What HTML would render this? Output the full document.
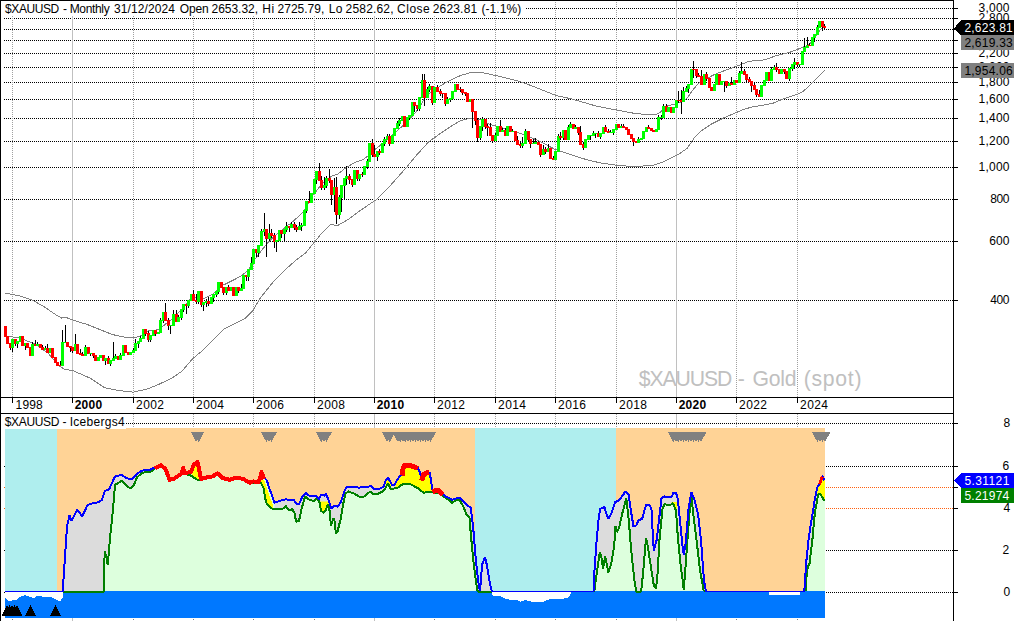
<!DOCTYPE html>
<html><head><meta charset="utf-8"><title>chart</title>
<style>
html,body{margin:0;padding:0;background:#fff;}
body{width:1014px;height:621px;position:relative;overflow:hidden;font-family:"Liberation Sans",sans-serif;}
div{font-family:"Liberation Sans",sans-serif;}
</style></head><body>
<div style="position:absolute;left:15.60px;top:398.84px;font-size:12px;line-height:13.79px;letter-spacing:0.167px;color:#000;white-space:pre;z-index:1">1998</div>
<div style="position:absolute;left:74.70px;top:398.84px;font-size:12px;font-weight:bold;line-height:13.79px;letter-spacing:0.250px;color:#000;white-space:pre;z-index:1">2000</div>
<div style="position:absolute;left:136.10px;top:398.84px;font-size:12px;line-height:13.79px;letter-spacing:0.400px;color:#000;white-space:pre;z-index:1">2002</div>
<div style="position:absolute;left:196.10px;top:398.84px;font-size:12px;line-height:13.79px;letter-spacing:0.400px;color:#000;white-space:pre;z-index:1">2004</div>
<div style="position:absolute;left:256.10px;top:398.84px;font-size:12px;line-height:13.79px;letter-spacing:0.400px;color:#000;white-space:pre;z-index:1">2006</div>
<div style="position:absolute;left:317.10px;top:398.84px;font-size:12px;line-height:13.79px;letter-spacing:0.400px;color:#000;white-space:pre;z-index:1">2008</div>
<div style="position:absolute;left:376.70px;top:398.84px;font-size:12px;font-weight:bold;line-height:13.79px;letter-spacing:0.250px;color:#000;white-space:pre;z-index:1">2010</div>
<div style="position:absolute;left:437.10px;top:398.84px;font-size:12px;line-height:13.79px;letter-spacing:0.400px;color:#000;white-space:pre;z-index:1">2012</div>
<div style="position:absolute;left:498.10px;top:398.84px;font-size:12px;line-height:13.79px;letter-spacing:0.400px;color:#000;white-space:pre;z-index:1">2014</div>
<div style="position:absolute;left:558.10px;top:398.84px;font-size:12px;line-height:13.79px;letter-spacing:0.400px;color:#000;white-space:pre;z-index:1">2016</div>
<div style="position:absolute;left:619.10px;top:398.84px;font-size:12px;line-height:13.79px;letter-spacing:0.400px;color:#000;white-space:pre;z-index:1">2018</div>
<div style="position:absolute;left:678.70px;top:398.84px;font-size:12px;font-weight:bold;line-height:13.79px;letter-spacing:0.250px;color:#000;white-space:pre;z-index:1">2020</div>
<div style="position:absolute;left:739.10px;top:398.84px;font-size:12px;line-height:13.79px;letter-spacing:0.400px;color:#000;white-space:pre;z-index:1">2022</div>
<div style="position:absolute;left:800.10px;top:398.84px;font-size:12px;line-height:13.79px;letter-spacing:0.400px;color:#000;white-space:pre;z-index:1">2024</div>
<div style="position:absolute;left:978.60px;top:1.74px;font-size:12px;line-height:13.79px;letter-spacing:0.200px;color:#000;white-space:pre;z-index:1">3,000</div>
<div style="position:absolute;left:978.60px;top:11.74px;font-size:12px;line-height:13.79px;letter-spacing:0.200px;color:#000;white-space:pre;z-index:1">2,800</div>
<div style="position:absolute;left:978.60px;top:22.74px;font-size:12px;line-height:13.79px;letter-spacing:0.200px;color:#000;white-space:pre;z-index:1">2,600</div>
<div style="position:absolute;left:978.60px;top:33.74px;font-size:12px;line-height:13.79px;letter-spacing:0.200px;color:#000;white-space:pre;z-index:1">2,400</div>
<div style="position:absolute;left:978.60px;top:46.74px;font-size:12px;line-height:13.79px;letter-spacing:0.200px;color:#000;white-space:pre;z-index:1">2,200</div>
<div style="position:absolute;left:978.60px;top:60.74px;font-size:12px;line-height:13.79px;letter-spacing:0.200px;color:#000;white-space:pre;z-index:1">2,000</div>
<div style="position:absolute;left:978.60px;top:75.74px;font-size:12px;line-height:13.79px;letter-spacing:0.200px;color:#000;white-space:pre;z-index:1">1,800</div>
<div style="position:absolute;left:978.60px;top:92.74px;font-size:12px;line-height:13.79px;letter-spacing:0.200px;color:#000;white-space:pre;z-index:1">1,600</div>
<div style="position:absolute;left:978.60px;top:111.74px;font-size:12px;line-height:13.79px;letter-spacing:0.200px;color:#000;white-space:pre;z-index:1">1,400</div>
<div style="position:absolute;left:978.60px;top:134.74px;font-size:12px;line-height:13.79px;letter-spacing:0.200px;color:#000;white-space:pre;z-index:1">1,200</div>
<div style="position:absolute;left:978.60px;top:160.74px;font-size:12px;line-height:13.79px;letter-spacing:0.200px;color:#000;white-space:pre;z-index:1">1,000</div>
<div style="position:absolute;left:990.20px;top:192.74px;font-size:12px;line-height:13.79px;letter-spacing:-0.400px;color:#000;white-space:pre;z-index:1">800</div>
<div style="position:absolute;left:989.20px;top:234.74px;font-size:12px;line-height:13.79px;letter-spacing:0.100px;color:#000;white-space:pre;z-index:1">600</div>
<div style="position:absolute;left:990.20px;top:293.74px;font-size:12px;line-height:13.79px;letter-spacing:-0.400px;color:#000;white-space:pre;z-index:1">400</div>
<div style="position:absolute;left:1003.60px;top:416.74px;font-size:12px;line-height:13.79px;letter-spacing:0.000px;color:#000;white-space:pre;z-index:1">8</div>
<div style="position:absolute;left:1002.60px;top:459.74px;font-size:12px;line-height:13.79px;letter-spacing:0.000px;color:#000;white-space:pre;z-index:1">6</div>
<div style="position:absolute;left:1003.60px;top:501.74px;font-size:12px;line-height:13.79px;letter-spacing:0.000px;color:#000;white-space:pre;z-index:1">4</div>
<div style="position:absolute;left:1002.60px;top:543.74px;font-size:12px;line-height:13.79px;letter-spacing:0.000px;color:#000;white-space:pre;z-index:1">2</div>
<div style="position:absolute;left:1003.60px;top:585.74px;font-size:12px;line-height:13.79px;letter-spacing:0.000px;color:#000;white-space:pre;z-index:1">0</div>
<div style="position:absolute;left:638.70px;top:367.41px;font-size:21.2px;line-height:24.36px;letter-spacing:-1.060px;color:#c0c0c0;white-space:pre;z-index:0">$XAUUSD</div>
<div style="position:absolute;left:737.70px;top:367.41px;font-size:21.2px;line-height:24.36px;letter-spacing:0.000px;color:#c0c0c0;white-space:pre;z-index:0">-</div>
<div style="position:absolute;left:752.50px;top:367.41px;font-size:21.2px;line-height:24.36px;letter-spacing:-0.233px;color:#c0c0c0;white-space:pre;z-index:0">Gold</div>
<div style="position:absolute;left:803.70px;top:367.41px;font-size:21.2px;line-height:24.36px;letter-spacing:0.720px;color:#c0c0c0;white-space:pre;z-index:0">(spot)</div>
<svg width="1014" height="621" viewBox="0 0 1014 621" shape-rendering="crispEdges" style="position:absolute;left:0;top:0;z-index:2">
<defs>
<clipPath id="ct"><rect x="1" y="1" width="952" height="396"/></clipPath>
<clipPath id="cy"><rect x="192" y="429" width="9.2" height="163"/><rect x="319.5" y="501.5" width="10.0" height="90.5"/><rect x="385.6" y="429" width="5.4" height="163"/><rect x="395.5" y="429" width="37.1" height="163"/><rect x="671.5" y="502" width="5.5" height="90"/><rect x="817.3" y="429" width="7.7" height="163"/></clipPath>
<clipPath id="clg"><rect x="260" y="428" width="14.6" height="164"/></clipPath>
</defs>
<line x1="4" x2="953" y1="8.5" y2="8.5" stroke="#000" stroke-width="1" stroke-dasharray="1 1"/>
<rect x="954" y="8" width="4" height="1" fill="#000"/>
<line x1="4" x2="953" y1="18.5" y2="18.5" stroke="#000" stroke-width="1" stroke-dasharray="1 1"/>
<rect x="954" y="18" width="4" height="1" fill="#000"/>
<line x1="4" x2="953" y1="29.5" y2="29.5" stroke="#000" stroke-width="1" stroke-dasharray="1 1"/>
<rect x="954" y="29" width="4" height="1" fill="#000"/>
<line x1="4" x2="953" y1="40.5" y2="40.5" stroke="#000" stroke-width="1" stroke-dasharray="1 1"/>
<rect x="954" y="40" width="4" height="1" fill="#000"/>
<line x1="4" x2="953" y1="53.5" y2="53.5" stroke="#000" stroke-width="1" stroke-dasharray="1 1"/>
<rect x="954" y="53" width="4" height="1" fill="#000"/>
<line x1="4" x2="953" y1="67.5" y2="67.5" stroke="#000" stroke-width="1" stroke-dasharray="1 1"/>
<rect x="954" y="67" width="4" height="1" fill="#000"/>
<line x1="4" x2="953" y1="82.5" y2="82.5" stroke="#000" stroke-width="1" stroke-dasharray="1 1"/>
<rect x="954" y="82" width="4" height="1" fill="#000"/>
<line x1="4" x2="953" y1="99.5" y2="99.5" stroke="#000" stroke-width="1" stroke-dasharray="1 1"/>
<rect x="954" y="99" width="4" height="1" fill="#000"/>
<line x1="4" x2="953" y1="118.5" y2="118.5" stroke="#000" stroke-width="1" stroke-dasharray="1 1"/>
<rect x="954" y="118" width="4" height="1" fill="#000"/>
<line x1="4" x2="953" y1="141.5" y2="141.5" stroke="#000" stroke-width="1" stroke-dasharray="1 1"/>
<rect x="954" y="141" width="4" height="1" fill="#000"/>
<line x1="4" x2="953" y1="167.5" y2="167.5" stroke="#000" stroke-width="1" stroke-dasharray="1 1"/>
<rect x="954" y="167" width="4" height="1" fill="#000"/>
<line x1="4" x2="953" y1="199.5" y2="199.5" stroke="#000" stroke-width="1" stroke-dasharray="1 1"/>
<rect x="954" y="199" width="4" height="1" fill="#000"/>
<line x1="4" x2="953" y1="241.5" y2="241.5" stroke="#000" stroke-width="1" stroke-dasharray="1 1"/>
<rect x="954" y="241" width="4" height="1" fill="#000"/>
<line x1="4" x2="953" y1="300.5" y2="300.5" stroke="#000" stroke-width="1" stroke-dasharray="1 1"/>
<rect x="954" y="300" width="4" height="1" fill="#000"/>
<line x1="12.5" x2="12.5" y1="2" y2="397" stroke="#a0a0a0" stroke-width="1" stroke-dasharray="1 1"/>
<line x1="12.5" x2="12.5" y1="414" y2="428" stroke="#a0a0a0" stroke-width="1" stroke-dasharray="1 1"/>
<rect x="12" y="619" width="1" height="1" fill="#808080"/>
<rect x="72" y="1" width="1" height="396" fill="#c0c0c0"/>
<rect x="72" y="414" width="1" height="14" fill="#c0c0c0"/>
<rect x="72" y="618" width="1" height="3" fill="#c0c0c0"/>
<line x1="133.5" x2="133.5" y1="2" y2="397" stroke="#a0a0a0" stroke-width="1" stroke-dasharray="1 1"/>
<line x1="133.5" x2="133.5" y1="414" y2="428" stroke="#a0a0a0" stroke-width="1" stroke-dasharray="1 1"/>
<rect x="133" y="619" width="1" height="1" fill="#808080"/>
<line x1="193.5" x2="193.5" y1="2" y2="397" stroke="#a0a0a0" stroke-width="1" stroke-dasharray="1 1"/>
<line x1="193.5" x2="193.5" y1="414" y2="428" stroke="#a0a0a0" stroke-width="1" stroke-dasharray="1 1"/>
<rect x="193" y="619" width="1" height="1" fill="#808080"/>
<line x1="253.5" x2="253.5" y1="2" y2="397" stroke="#a0a0a0" stroke-width="1" stroke-dasharray="1 1"/>
<line x1="253.5" x2="253.5" y1="414" y2="428" stroke="#a0a0a0" stroke-width="1" stroke-dasharray="1 1"/>
<rect x="253" y="619" width="1" height="1" fill="#808080"/>
<line x1="314.5" x2="314.5" y1="2" y2="397" stroke="#a0a0a0" stroke-width="1" stroke-dasharray="1 1"/>
<line x1="314.5" x2="314.5" y1="414" y2="428" stroke="#a0a0a0" stroke-width="1" stroke-dasharray="1 1"/>
<rect x="314" y="619" width="1" height="1" fill="#808080"/>
<rect x="374" y="1" width="1" height="396" fill="#c0c0c0"/>
<rect x="374" y="414" width="1" height="14" fill="#c0c0c0"/>
<rect x="374" y="618" width="1" height="3" fill="#c0c0c0"/>
<line x1="434.5" x2="434.5" y1="2" y2="397" stroke="#a0a0a0" stroke-width="1" stroke-dasharray="1 1"/>
<line x1="434.5" x2="434.5" y1="414" y2="428" stroke="#a0a0a0" stroke-width="1" stroke-dasharray="1 1"/>
<rect x="434" y="619" width="1" height="1" fill="#808080"/>
<line x1="495.5" x2="495.5" y1="2" y2="397" stroke="#a0a0a0" stroke-width="1" stroke-dasharray="1 1"/>
<line x1="495.5" x2="495.5" y1="414" y2="428" stroke="#a0a0a0" stroke-width="1" stroke-dasharray="1 1"/>
<rect x="495" y="619" width="1" height="1" fill="#808080"/>
<line x1="555.5" x2="555.5" y1="2" y2="397" stroke="#a0a0a0" stroke-width="1" stroke-dasharray="1 1"/>
<line x1="555.5" x2="555.5" y1="414" y2="428" stroke="#a0a0a0" stroke-width="1" stroke-dasharray="1 1"/>
<rect x="555" y="619" width="1" height="1" fill="#808080"/>
<line x1="616.5" x2="616.5" y1="2" y2="397" stroke="#a0a0a0" stroke-width="1" stroke-dasharray="1 1"/>
<line x1="616.5" x2="616.5" y1="414" y2="428" stroke="#a0a0a0" stroke-width="1" stroke-dasharray="1 1"/>
<rect x="616" y="619" width="1" height="1" fill="#808080"/>
<rect x="676" y="1" width="1" height="396" fill="#c0c0c0"/>
<rect x="676" y="414" width="1" height="14" fill="#c0c0c0"/>
<rect x="676" y="618" width="1" height="3" fill="#c0c0c0"/>
<line x1="736.5" x2="736.5" y1="2" y2="397" stroke="#a0a0a0" stroke-width="1" stroke-dasharray="1 1"/>
<line x1="736.5" x2="736.5" y1="414" y2="428" stroke="#a0a0a0" stroke-width="1" stroke-dasharray="1 1"/>
<rect x="736" y="619" width="1" height="1" fill="#808080"/>
<line x1="797.5" x2="797.5" y1="2" y2="397" stroke="#a0a0a0" stroke-width="1" stroke-dasharray="1 1"/>
<line x1="797.5" x2="797.5" y1="414" y2="428" stroke="#a0a0a0" stroke-width="1" stroke-dasharray="1 1"/>
<rect x="797" y="619" width="1" height="1" fill="#808080"/>
<rect x="1" y="1" width="524" height="15" fill="#fff"/>
<g clip-path="url(#ct)">
<polyline points="5.4,293.1 19.3,295.8 32.8,300.3 44.4,307.0 56.0,314.8 61.8,318.1 65.7,317.3 73.4,320.2 86.9,324.4 100.5,329.8 112.1,334.5 123.6,337.0 135.2,337.6 143.0,335.1 148.8,330.2 154.6,330.6 160.4,328.3 166.2,323.5 171.3,319.9 181.9,309.3 189.0,300.4 194.3,296.9 203.1,299.0 213.8,293.4 220.8,286.3 231.5,281.0 242.1,275.6 249.2,268.6 254.5,259.7 259.8,252.6 266.9,243.8 274.0,236.7 284.6,227.8 291.7,222.5 302.3,213.0 306.4,206.5 312.9,195.3 319.3,187.2 325.8,180.0 332.2,175.9 337.4,174.4 346.4,167.3 355.4,162.2 363.1,159.6 368.3,155.7 376.0,148.7 382.5,143.5 390.0,137.0 397.9,130.0 403.1,125.5 409.5,119.7 416.0,111.9 421.5,103.8 424.1,98.7 430.0,93.0 439.6,86.4 444.7,83.2 452.5,79.3 460.2,75.7 467.9,73.3 473.1,72.2 479.5,72.5 486.0,73.3 493.7,75.2 500.0,76.5 505.8,78.0 518.6,81.2 531.5,85.7 544.4,90.9 555.7,95.4 570.2,98.6 583.1,102.2 595.9,106.0 608.8,108.6 621.7,110.9 634.6,113.4 647.5,114.7 656.6,114.4 660.5,112.2 665.3,106.4 674.0,104.4 677.9,102.5 683.7,101.5 687.5,97.7 691.4,91.9 695.3,87.1 699.1,82.8 706.9,78.4 714.6,74.5 720.9,72.0 730.9,68.3 740.3,64.8 748.3,61.5 756.0,60.4 764.4,59.9 775.7,55.9 788.6,52.7 798.5,49.0 803.1,47.0 809.5,44.6 813.0,40.0 816.5,35.0 820.0,30.0 822.4,27.5 824.5,28.0" fill="none" stroke="#808080" stroke-width="1" stroke-linejoin="bevel"/>
<polyline points="6.8,336.0 19.3,338.0 34.8,343.8 48.3,353.4 58.0,365.0 63.8,368.9 73.4,370.8 90.8,378.5 104.3,387.6 117.9,390.5 133.3,392.1 146.8,389.2 158.4,384.5 171.3,378.4 181.9,371.3 192.5,358.9 203.1,350.0 213.8,339.4 224.4,328.8 235.0,323.5 245.6,318.1 252.7,311.0 259.8,298.7 266.9,289.8 274.0,280.9 284.6,270.3 295.2,260.8 305.9,252.6 314.5,242.0 322.5,232.3 330.6,224.2 337.0,225.9 348.3,219.4 361.2,209.8 375.7,200.1 386.3,190.0 397.9,177.0 407.0,166.7 416.0,155.7 428.9,141.6 441.7,132.5 451.4,126.0 461.0,120.5 470.7,118.0 480.3,119.6 489.7,124.4 499.3,127.0 512.2,130.8 525.1,135.0 536.4,139.8 544.4,143.7 554.1,148.9 563.7,152.1 576.6,156.6 589.5,160.5 602.4,163.3 615.3,165.0 628.1,166.2 641.0,166.2 653.9,165.0 663.6,161.7 669.7,158.5 679.3,153.9 687.4,148.1 693.8,138.5 701.9,130.4 711.5,124.0 724.4,117.6 737.3,112.1 743.5,109.4 753.2,106.7 764.4,105.0 772.5,103.4 783.8,98.6 796.7,94.6 803.1,91.3 808.0,87.0 812.8,82.5 818.0,77.0 824.5,70.5" fill="none" stroke="#808080" stroke-width="1" stroke-linejoin="bevel"/>
<rect x="5" y="326" width="1" height="11" fill="#000"/>
<rect x="4" y="326" width="3" height="11" fill="#ff0000"/>
<rect x="7" y="336" width="1" height="8" fill="#000"/>
<rect x="6" y="336" width="3" height="8" fill="#ff0000"/>
<rect x="10" y="343" width="1" height="7" fill="#000"/>
<rect x="9" y="343" width="3" height="5" fill="#ff0000"/>
<rect x="12" y="339" width="1" height="13" fill="#000"/>
<rect x="11" y="339" width="3" height="9" fill="#00ff00"/>
<rect x="15" y="339" width="1" height="7" fill="#000"/>
<rect x="14" y="339" width="3" height="5" fill="#ff0000"/>
<rect x="17" y="341" width="1" height="7" fill="#000"/>
<rect x="16" y="341" width="3" height="3" fill="#00ff00"/>
<rect x="20" y="336" width="1" height="6" fill="#000"/>
<rect x="19" y="336" width="3" height="6" fill="#00ff00"/>
<rect x="22" y="336" width="1" height="10" fill="#000"/>
<rect x="21" y="336" width="3" height="10" fill="#ff0000"/>
<rect x="25" y="343" width="1" height="7" fill="#000"/>
<rect x="24" y="343" width="3" height="3" fill="#00ff00"/>
<rect x="27" y="343" width="1" height="5" fill="#000"/>
<rect x="26" y="343" width="3" height="5" fill="#ff0000"/>
<rect x="30" y="347" width="1" height="9" fill="#000"/>
<rect x="29" y="347" width="3" height="9" fill="#ff0000"/>
<rect x="32" y="342" width="1" height="14" fill="#000"/>
<rect x="31" y="344" width="3" height="12" fill="#00ff00"/>
<rect x="35" y="340" width="1" height="6" fill="#000"/>
<rect x="34" y="344" width="3" height="2" fill="#ff0000"/>
<rect x="37" y="342" width="1" height="4" fill="#000"/>
<rect x="36" y="344" width="3" height="2" fill="#00ff00"/>
<rect x="40" y="344" width="1" height="4" fill="#000"/>
<rect x="39" y="344" width="3" height="4" fill="#ff0000"/>
<rect x="42" y="345" width="1" height="5" fill="#000"/>
<rect x="41" y="347" width="3" height="3" fill="#ff0000"/>
<rect x="45" y="346" width="1" height="4" fill="#000"/>
<rect x="44" y="348" width="3" height="2" fill="#00ff00"/>
<rect x="47" y="344" width="1" height="9" fill="#000"/>
<rect x="46" y="348" width="3" height="5" fill="#ff0000"/>
<rect x="50" y="348" width="1" height="5" fill="#000"/>
<rect x="49" y="348" width="3" height="5" fill="#00ff00"/>
<rect x="52" y="348" width="1" height="10" fill="#000"/>
<rect x="51" y="348" width="3" height="10" fill="#ff0000"/>
<rect x="55" y="357" width="1" height="6" fill="#000"/>
<rect x="54" y="357" width="3" height="6" fill="#ff0000"/>
<rect x="57" y="362" width="1" height="4" fill="#000"/>
<rect x="56" y="362" width="3" height="4" fill="#ff0000"/>
<rect x="60" y="361" width="1" height="5" fill="#000"/>
<rect x="59" y="365" width="3" height="1" fill="#ff0000"/>
<rect x="62" y="330" width="1" height="36" fill="#000"/>
<rect x="61" y="342" width="3" height="24" fill="#00ff00"/>
<rect x="65" y="325" width="1" height="18" fill="#000"/>
<rect x="64" y="342" width="3" height="1" fill="#00ff00"/>
<rect x="67" y="342" width="1" height="5" fill="#000"/>
<rect x="66" y="342" width="3" height="5" fill="#ff0000"/>
<rect x="70" y="346" width="1" height="6" fill="#000"/>
<rect x="69" y="346" width="3" height="2" fill="#ff0000"/>
<rect x="72" y="347" width="1" height="6" fill="#000"/>
<rect x="71" y="347" width="3" height="4" fill="#ff0000"/>
<rect x="75" y="334" width="1" height="17" fill="#000"/>
<rect x="74" y="344" width="3" height="7" fill="#00ff00"/>
<rect x="77" y="344" width="1" height="10" fill="#000"/>
<rect x="76" y="344" width="3" height="10" fill="#ff0000"/>
<rect x="80" y="349" width="1" height="6" fill="#000"/>
<rect x="79" y="353" width="3" height="2" fill="#ff0000"/>
<rect x="82" y="352" width="1" height="4" fill="#000"/>
<rect x="81" y="354" width="3" height="2" fill="#ff0000"/>
<rect x="85" y="345" width="1" height="11" fill="#000"/>
<rect x="84" y="347" width="3" height="9" fill="#00ff00"/>
<rect x="88" y="347" width="1" height="7" fill="#000"/>
<rect x="87" y="347" width="3" height="7" fill="#ff0000"/>
<rect x="90" y="353" width="1" height="3" fill="#000"/>
<rect x="89" y="353" width="3" height="1" fill="#00ff00"/>
<rect x="93" y="353" width="1" height="5" fill="#000"/>
<rect x="92" y="353" width="3" height="3" fill="#ff0000"/>
<rect x="95" y="355" width="1" height="6" fill="#000"/>
<rect x="94" y="355" width="3" height="6" fill="#ff0000"/>
<rect x="98" y="357" width="1" height="4" fill="#000"/>
<rect x="97" y="357" width="3" height="4" fill="#00ff00"/>
<rect x="100" y="355" width="1" height="3" fill="#000"/>
<rect x="99" y="355" width="3" height="3" fill="#00ff00"/>
<rect x="103" y="355" width="1" height="6" fill="#000"/>
<rect x="102" y="355" width="3" height="6" fill="#ff0000"/>
<rect x="105" y="358" width="1" height="7" fill="#000"/>
<rect x="104" y="358" width="3" height="3" fill="#00ff00"/>
<rect x="108" y="356" width="1" height="8" fill="#000"/>
<rect x="107" y="358" width="3" height="6" fill="#ff0000"/>
<rect x="110" y="360" width="1" height="6" fill="#000"/>
<rect x="109" y="360" width="3" height="4" fill="#00ff00"/>
<rect x="113" y="342" width="1" height="19" fill="#000"/>
<rect x="112" y="358" width="3" height="3" fill="#00ff00"/>
<rect x="115" y="354" width="1" height="5" fill="#000"/>
<rect x="114" y="356" width="3" height="3" fill="#00ff00"/>
<rect x="118" y="356" width="1" height="4" fill="#000"/>
<rect x="117" y="356" width="3" height="4" fill="#ff0000"/>
<rect x="120" y="353" width="1" height="7" fill="#000"/>
<rect x="119" y="355" width="3" height="5" fill="#00ff00"/>
<rect x="123" y="345" width="1" height="11" fill="#000"/>
<rect x="122" y="345" width="3" height="11" fill="#00ff00"/>
<rect x="125" y="345" width="1" height="8" fill="#000"/>
<rect x="124" y="345" width="3" height="8" fill="#ff0000"/>
<rect x="128" y="352" width="1" height="3" fill="#000"/>
<rect x="127" y="352" width="3" height="3" fill="#ff0000"/>
<rect x="130" y="352" width="1" height="3" fill="#000"/>
<rect x="129" y="352" width="3" height="3" fill="#00ff00"/>
<rect x="133" y="348" width="1" height="5" fill="#000"/>
<rect x="132" y="350" width="3" height="3" fill="#00ff00"/>
<rect x="135" y="339" width="1" height="12" fill="#000"/>
<rect x="134" y="343" width="3" height="8" fill="#00ff00"/>
<rect x="138" y="341" width="1" height="7" fill="#000"/>
<rect x="137" y="341" width="3" height="3" fill="#00ff00"/>
<rect x="140" y="336" width="1" height="6" fill="#000"/>
<rect x="139" y="338" width="3" height="4" fill="#00ff00"/>
<rect x="143" y="329" width="1" height="10" fill="#000"/>
<rect x="142" y="329" width="3" height="10" fill="#00ff00"/>
<rect x="145" y="329" width="1" height="7" fill="#000"/>
<rect x="144" y="329" width="3" height="5" fill="#ff0000"/>
<rect x="148" y="331" width="1" height="11" fill="#000"/>
<rect x="147" y="333" width="3" height="7" fill="#ff0000"/>
<rect x="150" y="335" width="1" height="7" fill="#000"/>
<rect x="149" y="335" width="3" height="5" fill="#00ff00"/>
<rect x="153" y="330" width="1" height="6" fill="#000"/>
<rect x="152" y="330" width="3" height="6" fill="#00ff00"/>
<rect x="155" y="330" width="1" height="6" fill="#000"/>
<rect x="154" y="330" width="3" height="4" fill="#ff0000"/>
<rect x="158" y="332" width="1" height="2" fill="#000"/>
<rect x="157" y="332" width="3" height="2" fill="#00ff00"/>
<rect x="160" y="318" width="1" height="15" fill="#000"/>
<rect x="159" y="320" width="3" height="13" fill="#00ff00"/>
<rect x="163" y="312" width="1" height="11" fill="#000"/>
<rect x="162" y="312" width="3" height="9" fill="#00ff00"/>
<rect x="165" y="303" width="1" height="18" fill="#000"/>
<rect x="164" y="312" width="3" height="9" fill="#ff0000"/>
<rect x="168" y="318" width="1" height="12" fill="#000"/>
<rect x="167" y="320" width="3" height="6" fill="#ff0000"/>
<rect x="170" y="325" width="1" height="9" fill="#000"/>
<rect x="169" y="325" width="3" height="1" fill="#00ff00"/>
<rect x="173" y="310" width="1" height="16" fill="#000"/>
<rect x="172" y="314" width="3" height="12" fill="#00ff00"/>
<rect x="176" y="310" width="1" height="12" fill="#000"/>
<rect x="175" y="314" width="3" height="8" fill="#ff0000"/>
<rect x="178" y="315" width="1" height="7" fill="#000"/>
<rect x="177" y="317" width="3" height="5" fill="#00ff00"/>
<rect x="181" y="309" width="1" height="11" fill="#000"/>
<rect x="180" y="309" width="3" height="9" fill="#00ff00"/>
<rect x="183" y="304" width="1" height="8" fill="#000"/>
<rect x="182" y="304" width="3" height="6" fill="#00ff00"/>
<rect x="186" y="304" width="1" height="10" fill="#000"/>
<rect x="185" y="304" width="3" height="2" fill="#ff0000"/>
<rect x="188" y="300" width="1" height="8" fill="#000"/>
<rect x="187" y="300" width="3" height="6" fill="#00ff00"/>
<rect x="191" y="294" width="1" height="7" fill="#000"/>
<rect x="190" y="294" width="3" height="7" fill="#00ff00"/>
<rect x="193" y="290" width="1" height="11" fill="#000"/>
<rect x="192" y="294" width="3" height="7" fill="#ff0000"/>
<rect x="196" y="294" width="1" height="10" fill="#000"/>
<rect x="195" y="300" width="3" height="2" fill="#ff0000"/>
<rect x="198" y="291" width="1" height="13" fill="#000"/>
<rect x="197" y="291" width="3" height="11" fill="#00ff00"/>
<rect x="201" y="291" width="1" height="16" fill="#000"/>
<rect x="200" y="291" width="3" height="14" fill="#ff0000"/>
<rect x="203" y="302" width="1" height="9" fill="#000"/>
<rect x="202" y="302" width="3" height="3" fill="#00ff00"/>
<rect x="206" y="299" width="1" height="8" fill="#000"/>
<rect x="205" y="301" width="3" height="2" fill="#00ff00"/>
<rect x="208" y="297" width="1" height="9" fill="#000"/>
<rect x="207" y="301" width="3" height="3" fill="#ff0000"/>
<rect x="211" y="297" width="1" height="7" fill="#000"/>
<rect x="210" y="297" width="3" height="7" fill="#00ff00"/>
<rect x="213" y="294" width="1" height="8" fill="#000"/>
<rect x="212" y="294" width="3" height="4" fill="#00ff00"/>
<rect x="216" y="291" width="1" height="6" fill="#000"/>
<rect x="215" y="291" width="3" height="4" fill="#00ff00"/>
<rect x="218" y="282" width="1" height="12" fill="#000"/>
<rect x="217" y="282" width="3" height="10" fill="#00ff00"/>
<rect x="221" y="282" width="1" height="6" fill="#000"/>
<rect x="220" y="282" width="3" height="6" fill="#ff0000"/>
<rect x="223" y="287" width="1" height="8" fill="#000"/>
<rect x="222" y="287" width="3" height="6" fill="#ff0000"/>
<rect x="226" y="287" width="1" height="8" fill="#000"/>
<rect x="225" y="287" width="3" height="6" fill="#00ff00"/>
<rect x="228" y="285" width="1" height="6" fill="#000"/>
<rect x="227" y="287" width="3" height="4" fill="#ff0000"/>
<rect x="231" y="287" width="1" height="4" fill="#000"/>
<rect x="230" y="287" width="3" height="4" fill="#00ff00"/>
<rect x="233" y="287" width="1" height="9" fill="#000"/>
<rect x="232" y="287" width="3" height="9" fill="#ff0000"/>
<rect x="236" y="287" width="1" height="9" fill="#000"/>
<rect x="235" y="287" width="3" height="9" fill="#00ff00"/>
<rect x="238" y="287" width="1" height="6" fill="#000"/>
<rect x="237" y="287" width="3" height="4" fill="#ff0000"/>
<rect x="241" y="284" width="1" height="7" fill="#000"/>
<rect x="240" y="288" width="3" height="3" fill="#00ff00"/>
<rect x="243" y="275" width="1" height="14" fill="#000"/>
<rect x="242" y="275" width="3" height="14" fill="#00ff00"/>
<rect x="246" y="275" width="1" height="6" fill="#000"/>
<rect x="245" y="275" width="3" height="2" fill="#ff0000"/>
<rect x="248" y="269" width="1" height="12" fill="#000"/>
<rect x="247" y="269" width="3" height="8" fill="#00ff00"/>
<rect x="251" y="257" width="1" height="13" fill="#000"/>
<rect x="250" y="263" width="3" height="7" fill="#00ff00"/>
<rect x="253" y="249" width="1" height="15" fill="#000"/>
<rect x="252" y="249" width="3" height="15" fill="#00ff00"/>
<rect x="256" y="249" width="1" height="8" fill="#000"/>
<rect x="255" y="249" width="3" height="4" fill="#ff0000"/>
<rect x="258" y="245" width="1" height="12" fill="#000"/>
<rect x="257" y="245" width="3" height="8" fill="#00ff00"/>
<rect x="261" y="229" width="1" height="17" fill="#000"/>
<rect x="260" y="231" width="3" height="15" fill="#00ff00"/>
<rect x="264" y="213" width="1" height="23" fill="#000"/>
<rect x="263" y="229" width="3" height="3" fill="#00ff00"/>
<rect x="266" y="229" width="1" height="28" fill="#000"/>
<rect x="265" y="229" width="3" height="10" fill="#ff0000"/>
<rect x="269" y="224" width="1" height="17" fill="#000"/>
<rect x="268" y="233" width="3" height="6" fill="#00ff00"/>
<rect x="271" y="229" width="1" height="9" fill="#000"/>
<rect x="270" y="233" width="3" height="3" fill="#ff0000"/>
<rect x="274" y="233" width="1" height="15" fill="#000"/>
<rect x="273" y="235" width="3" height="7" fill="#ff0000"/>
<rect x="276" y="240" width="1" height="12" fill="#000"/>
<rect x="275" y="240" width="3" height="2" fill="#00ff00"/>
<rect x="279" y="230" width="1" height="11" fill="#000"/>
<rect x="278" y="230" width="3" height="11" fill="#00ff00"/>
<rect x="281" y="230" width="1" height="8" fill="#000"/>
<rect x="280" y="230" width="3" height="4" fill="#ff0000"/>
<rect x="284" y="229" width="1" height="13" fill="#000"/>
<rect x="283" y="229" width="3" height="5" fill="#00ff00"/>
<rect x="286" y="222" width="1" height="10" fill="#000"/>
<rect x="285" y="226" width="3" height="4" fill="#00ff00"/>
<rect x="289" y="226" width="1" height="6" fill="#000"/>
<rect x="288" y="226" width="3" height="2" fill="#ff0000"/>
<rect x="291" y="222" width="1" height="6" fill="#000"/>
<rect x="290" y="224" width="3" height="4" fill="#00ff00"/>
<rect x="294" y="222" width="1" height="8" fill="#000"/>
<rect x="293" y="224" width="3" height="4" fill="#ff0000"/>
<rect x="296" y="225" width="1" height="7" fill="#000"/>
<rect x="295" y="227" width="3" height="3" fill="#ff0000"/>
<rect x="299" y="222" width="1" height="8" fill="#000"/>
<rect x="298" y="226" width="3" height="4" fill="#00ff00"/>
<rect x="301" y="223" width="1" height="8" fill="#000"/>
<rect x="300" y="225" width="3" height="2" fill="#00ff00"/>
<rect x="304" y="210" width="1" height="16" fill="#000"/>
<rect x="303" y="210" width="3" height="16" fill="#00ff00"/>
<rect x="306" y="201" width="1" height="12" fill="#000"/>
<rect x="305" y="201" width="3" height="10" fill="#00ff00"/>
<rect x="309" y="191" width="1" height="12" fill="#000"/>
<rect x="308" y="201" width="3" height="2" fill="#ff0000"/>
<rect x="311" y="193" width="1" height="10" fill="#000"/>
<rect x="310" y="193" width="3" height="10" fill="#00ff00"/>
<rect x="314" y="179" width="1" height="15" fill="#000"/>
<rect x="313" y="179" width="3" height="15" fill="#00ff00"/>
<rect x="316" y="171" width="1" height="13" fill="#000"/>
<rect x="315" y="171" width="3" height="9" fill="#00ff00"/>
<rect x="319" y="163" width="1" height="18" fill="#000"/>
<rect x="318" y="171" width="3" height="10" fill="#ff0000"/>
<rect x="321" y="176" width="1" height="14" fill="#000"/>
<rect x="320" y="180" width="3" height="8" fill="#ff0000"/>
<rect x="324" y="177" width="1" height="13" fill="#000"/>
<rect x="323" y="185" width="3" height="3" fill="#00ff00"/>
<rect x="326" y="176" width="1" height="12" fill="#000"/>
<rect x="325" y="178" width="3" height="8" fill="#00ff00"/>
<rect x="329" y="169" width="1" height="14" fill="#000"/>
<rect x="328" y="178" width="3" height="3" fill="#ff0000"/>
<rect x="331" y="180" width="1" height="25" fill="#000"/>
<rect x="330" y="180" width="3" height="15" fill="#ff0000"/>
<rect x="334" y="178" width="1" height="34" fill="#000"/>
<rect x="333" y="187" width="3" height="8" fill="#00ff00"/>
<rect x="336" y="177" width="1" height="47" fill="#000"/>
<rect x="335" y="187" width="3" height="28" fill="#ff0000"/>
<rect x="339" y="195" width="1" height="24" fill="#000"/>
<rect x="338" y="197" width="3" height="18" fill="#00ff00"/>
<rect x="341" y="185" width="1" height="27" fill="#000"/>
<rect x="340" y="185" width="3" height="13" fill="#00ff00"/>
<rect x="344" y="178" width="1" height="22" fill="#000"/>
<rect x="343" y="178" width="3" height="8" fill="#00ff00"/>
<rect x="346" y="166" width="1" height="19" fill="#000"/>
<rect x="345" y="176" width="3" height="3" fill="#00ff00"/>
<rect x="349" y="174" width="1" height="10" fill="#000"/>
<rect x="348" y="176" width="3" height="4" fill="#ff0000"/>
<rect x="352" y="179" width="1" height="8" fill="#000"/>
<rect x="351" y="179" width="3" height="6" fill="#ff0000"/>
<rect x="354" y="170" width="1" height="15" fill="#000"/>
<rect x="353" y="170" width="3" height="15" fill="#00ff00"/>
<rect x="357" y="170" width="1" height="11" fill="#000"/>
<rect x="356" y="170" width="3" height="9" fill="#ff0000"/>
<rect x="359" y="174" width="1" height="7" fill="#000"/>
<rect x="358" y="174" width="3" height="5" fill="#00ff00"/>
<rect x="362" y="172" width="1" height="5" fill="#000"/>
<rect x="361" y="174" width="3" height="1" fill="#ff0000"/>
<rect x="364" y="166" width="1" height="9" fill="#000"/>
<rect x="363" y="166" width="3" height="9" fill="#00ff00"/>
<rect x="367" y="159" width="1" height="10" fill="#000"/>
<rect x="366" y="161" width="3" height="6" fill="#00ff00"/>
<rect x="369" y="143" width="1" height="19" fill="#000"/>
<rect x="368" y="143" width="3" height="19" fill="#00ff00"/>
<rect x="372" y="139" width="1" height="18" fill="#000"/>
<rect x="371" y="143" width="3" height="12" fill="#ff0000"/>
<rect x="374" y="145" width="1" height="12" fill="#000"/>
<rect x="373" y="154" width="3" height="3" fill="#ff0000"/>
<rect x="377" y="151" width="1" height="10" fill="#000"/>
<rect x="376" y="151" width="3" height="6" fill="#00ff00"/>
<rect x="379" y="149" width="1" height="6" fill="#000"/>
<rect x="378" y="151" width="3" height="2" fill="#ff0000"/>
<rect x="382" y="143" width="1" height="10" fill="#000"/>
<rect x="381" y="143" width="3" height="10" fill="#00ff00"/>
<rect x="384" y="137" width="1" height="9" fill="#000"/>
<rect x="383" y="139" width="3" height="5" fill="#00ff00"/>
<rect x="387" y="134" width="1" height="6" fill="#000"/>
<rect x="386" y="136" width="3" height="4" fill="#00ff00"/>
<rect x="389" y="134" width="1" height="12" fill="#000"/>
<rect x="388" y="136" width="3" height="8" fill="#ff0000"/>
<rect x="392" y="135" width="1" height="9" fill="#000"/>
<rect x="391" y="135" width="3" height="9" fill="#00ff00"/>
<rect x="394" y="128" width="1" height="8" fill="#000"/>
<rect x="393" y="128" width="3" height="8" fill="#00ff00"/>
<rect x="397" y="121" width="1" height="8" fill="#000"/>
<rect x="396" y="123" width="3" height="6" fill="#00ff00"/>
<rect x="399" y="118" width="1" height="8" fill="#000"/>
<rect x="398" y="120" width="3" height="4" fill="#00ff00"/>
<rect x="402" y="116" width="1" height="5" fill="#000"/>
<rect x="401" y="116" width="3" height="5" fill="#00ff00"/>
<rect x="404" y="116" width="1" height="11" fill="#000"/>
<rect x="403" y="116" width="3" height="11" fill="#ff0000"/>
<rect x="407" y="117" width="1" height="10" fill="#000"/>
<rect x="406" y="117" width="3" height="10" fill="#00ff00"/>
<rect x="409" y="115" width="1" height="5" fill="#000"/>
<rect x="408" y="115" width="3" height="3" fill="#00ff00"/>
<rect x="412" y="102" width="1" height="14" fill="#000"/>
<rect x="411" y="102" width="3" height="14" fill="#00ff00"/>
<rect x="414" y="102" width="1" height="10" fill="#000"/>
<rect x="413" y="102" width="3" height="4" fill="#ff0000"/>
<rect x="417" y="105" width="1" height="6" fill="#000"/>
<rect x="416" y="105" width="3" height="4" fill="#ff0000"/>
<rect x="419" y="97" width="1" height="14" fill="#000"/>
<rect x="418" y="97" width="3" height="12" fill="#00ff00"/>
<rect x="422" y="74" width="1" height="24" fill="#000"/>
<rect x="421" y="80" width="3" height="18" fill="#00ff00"/>
<rect x="424" y="74" width="1" height="32" fill="#000"/>
<rect x="423" y="80" width="3" height="18" fill="#ff0000"/>
<rect x="427" y="87" width="1" height="11" fill="#000"/>
<rect x="426" y="89" width="3" height="9" fill="#00ff00"/>
<rect x="429" y="84" width="1" height="8" fill="#000"/>
<rect x="428" y="86" width="3" height="4" fill="#00ff00"/>
<rect x="432" y="86" width="1" height="19" fill="#000"/>
<rect x="431" y="86" width="3" height="17" fill="#ff0000"/>
<rect x="434" y="87" width="1" height="16" fill="#000"/>
<rect x="433" y="87" width="3" height="16" fill="#00ff00"/>
<rect x="437" y="85" width="1" height="7" fill="#000"/>
<rect x="436" y="87" width="3" height="5" fill="#ff0000"/>
<rect x="440" y="89" width="1" height="7" fill="#000"/>
<rect x="439" y="91" width="3" height="3" fill="#ff0000"/>
<rect x="442" y="93" width="1" height="5" fill="#000"/>
<rect x="441" y="93" width="3" height="1" fill="#ff0000"/>
<rect x="445" y="93" width="1" height="13" fill="#000"/>
<rect x="444" y="93" width="3" height="11" fill="#ff0000"/>
<rect x="447" y="97" width="1" height="7" fill="#000"/>
<rect x="446" y="99" width="3" height="5" fill="#00ff00"/>
<rect x="450" y="98" width="1" height="4" fill="#000"/>
<rect x="449" y="98" width="3" height="2" fill="#00ff00"/>
<rect x="452" y="91" width="1" height="8" fill="#000"/>
<rect x="451" y="91" width="3" height="8" fill="#00ff00"/>
<rect x="455" y="84" width="1" height="8" fill="#000"/>
<rect x="454" y="84" width="3" height="8" fill="#00ff00"/>
<rect x="457" y="84" width="1" height="6" fill="#000"/>
<rect x="456" y="84" width="3" height="6" fill="#ff0000"/>
<rect x="460" y="87" width="1" height="5" fill="#000"/>
<rect x="459" y="89" width="3" height="1" fill="#ff0000"/>
<rect x="462" y="89" width="1" height="6" fill="#000"/>
<rect x="461" y="89" width="3" height="4" fill="#ff0000"/>
<rect x="465" y="92" width="1" height="4" fill="#000"/>
<rect x="464" y="92" width="3" height="2" fill="#ff0000"/>
<rect x="467" y="93" width="1" height="9" fill="#000"/>
<rect x="466" y="93" width="3" height="9" fill="#ff0000"/>
<rect x="470" y="99" width="1" height="3" fill="#000"/>
<rect x="469" y="99" width="3" height="3" fill="#00ff00"/>
<rect x="472" y="99" width="1" height="29" fill="#000"/>
<rect x="471" y="99" width="3" height="13" fill="#ff0000"/>
<rect x="475" y="111" width="1" height="14" fill="#000"/>
<rect x="474" y="111" width="3" height="10" fill="#ff0000"/>
<rect x="477" y="118" width="1" height="24" fill="#000"/>
<rect x="476" y="120" width="3" height="18" fill="#ff0000"/>
<rect x="480" y="126" width="1" height="14" fill="#000"/>
<rect x="479" y="126" width="3" height="12" fill="#00ff00"/>
<rect x="482" y="117" width="1" height="14" fill="#000"/>
<rect x="481" y="119" width="3" height="8" fill="#00ff00"/>
<rect x="485" y="119" width="1" height="10" fill="#000"/>
<rect x="484" y="119" width="3" height="8" fill="#ff0000"/>
<rect x="487" y="124" width="1" height="12" fill="#000"/>
<rect x="486" y="126" width="3" height="2" fill="#ff0000"/>
<rect x="490" y="123" width="1" height="13" fill="#000"/>
<rect x="489" y="127" width="3" height="9" fill="#ff0000"/>
<rect x="492" y="135" width="1" height="8" fill="#000"/>
<rect x="491" y="135" width="3" height="6" fill="#ff0000"/>
<rect x="495" y="133" width="1" height="8" fill="#000"/>
<rect x="494" y="135" width="3" height="6" fill="#00ff00"/>
<rect x="497" y="126" width="1" height="10" fill="#000"/>
<rect x="496" y="126" width="3" height="10" fill="#00ff00"/>
<rect x="500" y="120" width="1" height="12" fill="#000"/>
<rect x="499" y="126" width="3" height="6" fill="#ff0000"/>
<rect x="502" y="128" width="1" height="4" fill="#000"/>
<rect x="501" y="130" width="3" height="2" fill="#00ff00"/>
<rect x="505" y="128" width="1" height="8" fill="#000"/>
<rect x="504" y="130" width="3" height="6" fill="#ff0000"/>
<rect x="507" y="126" width="1" height="10" fill="#000"/>
<rect x="506" y="126" width="3" height="10" fill="#00ff00"/>
<rect x="510" y="126" width="1" height="6" fill="#000"/>
<rect x="509" y="126" width="3" height="6" fill="#ff0000"/>
<rect x="512" y="129" width="1" height="3" fill="#000"/>
<rect x="511" y="131" width="3" height="1" fill="#00ff00"/>
<rect x="515" y="131" width="1" height="10" fill="#000"/>
<rect x="514" y="131" width="3" height="10" fill="#ff0000"/>
<rect x="517" y="136" width="1" height="9" fill="#000"/>
<rect x="516" y="140" width="3" height="5" fill="#ff0000"/>
<rect x="520" y="142" width="1" height="6" fill="#000"/>
<rect x="519" y="144" width="3" height="2" fill="#ff0000"/>
<rect x="522" y="137" width="1" height="11" fill="#000"/>
<rect x="521" y="143" width="3" height="3" fill="#00ff00"/>
<rect x="525" y="129" width="1" height="15" fill="#000"/>
<rect x="524" y="131" width="3" height="13" fill="#00ff00"/>
<rect x="528" y="131" width="1" height="11" fill="#000"/>
<rect x="527" y="131" width="3" height="9" fill="#ff0000"/>
<rect x="530" y="139" width="1" height="9" fill="#000"/>
<rect x="529" y="139" width="3" height="5" fill="#ff0000"/>
<rect x="533" y="139" width="1" height="5" fill="#000"/>
<rect x="532" y="143" width="3" height="1" fill="#00ff00"/>
<rect x="535" y="138" width="1" height="6" fill="#000"/>
<rect x="534" y="142" width="3" height="2" fill="#00ff00"/>
<rect x="538" y="142" width="1" height="3" fill="#000"/>
<rect x="537" y="142" width="3" height="3" fill="#ff0000"/>
<rect x="540" y="144" width="1" height="13" fill="#000"/>
<rect x="539" y="144" width="3" height="11" fill="#ff0000"/>
<rect x="543" y="145" width="1" height="10" fill="#000"/>
<rect x="542" y="149" width="3" height="6" fill="#00ff00"/>
<rect x="545" y="147" width="1" height="7" fill="#000"/>
<rect x="544" y="149" width="3" height="3" fill="#ff0000"/>
<rect x="548" y="144" width="1" height="8" fill="#000"/>
<rect x="547" y="148" width="3" height="4" fill="#00ff00"/>
<rect x="550" y="148" width="1" height="11" fill="#000"/>
<rect x="549" y="148" width="3" height="11" fill="#ff0000"/>
<rect x="553" y="156" width="1" height="4" fill="#000"/>
<rect x="552" y="158" width="3" height="2" fill="#ff0000"/>
<rect x="555" y="151" width="1" height="9" fill="#000"/>
<rect x="554" y="151" width="3" height="9" fill="#00ff00"/>
<rect x="558" y="134" width="1" height="18" fill="#000"/>
<rect x="557" y="136" width="3" height="16" fill="#00ff00"/>
<rect x="560" y="132" width="1" height="8" fill="#000"/>
<rect x="559" y="136" width="3" height="2" fill="#ff0000"/>
<rect x="563" y="130" width="1" height="10" fill="#000"/>
<rect x="562" y="130" width="3" height="8" fill="#00ff00"/>
<rect x="565" y="130" width="1" height="10" fill="#000"/>
<rect x="564" y="130" width="3" height="10" fill="#ff0000"/>
<rect x="568" y="125" width="1" height="15" fill="#000"/>
<rect x="567" y="127" width="3" height="13" fill="#00ff00"/>
<rect x="570" y="122" width="1" height="6" fill="#000"/>
<rect x="569" y="124" width="3" height="4" fill="#00ff00"/>
<rect x="573" y="124" width="1" height="5" fill="#000"/>
<rect x="572" y="124" width="3" height="5" fill="#ff0000"/>
<rect x="575" y="125" width="1" height="4" fill="#000"/>
<rect x="574" y="127" width="3" height="2" fill="#00ff00"/>
<rect x="578" y="127" width="1" height="8" fill="#000"/>
<rect x="577" y="127" width="3" height="6" fill="#ff0000"/>
<rect x="580" y="126" width="1" height="19" fill="#000"/>
<rect x="579" y="132" width="3" height="13" fill="#ff0000"/>
<rect x="583" y="142" width="1" height="8" fill="#000"/>
<rect x="582" y="144" width="3" height="4" fill="#ff0000"/>
<rect x="585" y="139" width="1" height="9" fill="#000"/>
<rect x="584" y="139" width="3" height="9" fill="#00ff00"/>
<rect x="588" y="135" width="1" height="5" fill="#000"/>
<rect x="587" y="135" width="3" height="5" fill="#00ff00"/>
<rect x="590" y="135" width="1" height="5" fill="#000"/>
<rect x="589" y="135" width="3" height="1" fill="#00ff00"/>
<rect x="593" y="131" width="1" height="5" fill="#000"/>
<rect x="592" y="133" width="3" height="3" fill="#00ff00"/>
<rect x="595" y="133" width="1" height="5" fill="#000"/>
<rect x="594" y="133" width="3" height="1" fill="#00ff00"/>
<rect x="598" y="131" width="1" height="6" fill="#000"/>
<rect x="597" y="133" width="3" height="4" fill="#ff0000"/>
<rect x="600" y="133" width="1" height="6" fill="#000"/>
<rect x="599" y="133" width="3" height="4" fill="#00ff00"/>
<rect x="603" y="127" width="1" height="7" fill="#000"/>
<rect x="602" y="127" width="3" height="7" fill="#00ff00"/>
<rect x="605" y="125" width="1" height="7" fill="#000"/>
<rect x="604" y="127" width="3" height="5" fill="#ff0000"/>
<rect x="608" y="129" width="1" height="4" fill="#000"/>
<rect x="607" y="131" width="3" height="2" fill="#ff0000"/>
<rect x="610" y="130" width="1" height="3" fill="#000"/>
<rect x="609" y="132" width="3" height="1" fill="#00ff00"/>
<rect x="613" y="129" width="1" height="6" fill="#000"/>
<rect x="612" y="129" width="3" height="4" fill="#00ff00"/>
<rect x="616" y="124" width="1" height="6" fill="#000"/>
<rect x="615" y="124" width="3" height="6" fill="#00ff00"/>
<rect x="618" y="124" width="1" height="4" fill="#000"/>
<rect x="617" y="124" width="3" height="4" fill="#ff0000"/>
<rect x="621" y="124" width="1" height="4" fill="#000"/>
<rect x="620" y="126" width="3" height="2" fill="#00ff00"/>
<rect x="623" y="124" width="1" height="4" fill="#000"/>
<rect x="622" y="126" width="3" height="2" fill="#ff0000"/>
<rect x="626" y="127" width="1" height="3" fill="#000"/>
<rect x="625" y="127" width="3" height="3" fill="#ff0000"/>
<rect x="628" y="129" width="1" height="6" fill="#000"/>
<rect x="627" y="129" width="3" height="6" fill="#ff0000"/>
<rect x="631" y="134" width="1" height="5" fill="#000"/>
<rect x="630" y="134" width="3" height="5" fill="#ff0000"/>
<rect x="633" y="138" width="1" height="8" fill="#000"/>
<rect x="632" y="138" width="3" height="4" fill="#ff0000"/>
<rect x="636" y="141" width="1" height="2" fill="#000"/>
<rect x="635" y="141" width="3" height="2" fill="#ff0000"/>
<rect x="638" y="137" width="1" height="6" fill="#000"/>
<rect x="637" y="139" width="3" height="4" fill="#00ff00"/>
<rect x="641" y="138" width="1" height="2" fill="#000"/>
<rect x="640" y="138" width="3" height="2" fill="#00ff00"/>
<rect x="643" y="131" width="1" height="8" fill="#000"/>
<rect x="642" y="131" width="3" height="8" fill="#00ff00"/>
<rect x="646" y="127" width="1" height="5" fill="#000"/>
<rect x="645" y="127" width="3" height="5" fill="#00ff00"/>
<rect x="648" y="125" width="1" height="4" fill="#000"/>
<rect x="647" y="127" width="3" height="2" fill="#ff0000"/>
<rect x="651" y="128" width="1" height="3" fill="#000"/>
<rect x="650" y="128" width="3" height="3" fill="#ff0000"/>
<rect x="653" y="130" width="1" height="2" fill="#000"/>
<rect x="652" y="130" width="3" height="2" fill="#ff0000"/>
<rect x="656" y="129" width="1" height="3" fill="#000"/>
<rect x="655" y="129" width="3" height="3" fill="#00ff00"/>
<rect x="658" y="115" width="1" height="15" fill="#000"/>
<rect x="657" y="117" width="3" height="13" fill="#00ff00"/>
<rect x="661" y="115" width="1" height="5" fill="#000"/>
<rect x="660" y="117" width="3" height="1" fill="#00ff00"/>
<rect x="663" y="104" width="1" height="14" fill="#000"/>
<rect x="662" y="106" width="3" height="12" fill="#00ff00"/>
<rect x="666" y="104" width="1" height="8" fill="#000"/>
<rect x="665" y="106" width="3" height="6" fill="#ff0000"/>
<rect x="668" y="107" width="1" height="5" fill="#000"/>
<rect x="667" y="107" width="3" height="5" fill="#00ff00"/>
<rect x="671" y="107" width="1" height="6" fill="#000"/>
<rect x="670" y="107" width="3" height="6" fill="#ff0000"/>
<rect x="673" y="107" width="1" height="6" fill="#000"/>
<rect x="672" y="107" width="3" height="6" fill="#00ff00"/>
<rect x="676" y="100" width="1" height="8" fill="#000"/>
<rect x="675" y="100" width="3" height="8" fill="#00ff00"/>
<rect x="678" y="91" width="1" height="12" fill="#000"/>
<rect x="677" y="100" width="3" height="1" fill="#ff0000"/>
<rect x="681" y="90" width="1" height="24" fill="#000"/>
<rect x="680" y="100" width="3" height="2" fill="#ff0000"/>
<rect x="683" y="87" width="1" height="15" fill="#000"/>
<rect x="682" y="91" width="3" height="11" fill="#00ff00"/>
<rect x="686" y="86" width="1" height="6" fill="#000"/>
<rect x="685" y="88" width="3" height="4" fill="#00ff00"/>
<rect x="688" y="84" width="1" height="9" fill="#000"/>
<rect x="687" y="84" width="3" height="5" fill="#00ff00"/>
<rect x="691" y="69" width="1" height="16" fill="#000"/>
<rect x="690" y="69" width="3" height="16" fill="#00ff00"/>
<rect x="693" y="61" width="1" height="17" fill="#000"/>
<rect x="692" y="69" width="3" height="1" fill="#ff0000"/>
<rect x="696" y="69" width="1" height="9" fill="#000"/>
<rect x="695" y="69" width="3" height="7" fill="#ff0000"/>
<rect x="698" y="73" width="1" height="4" fill="#000"/>
<rect x="697" y="75" width="3" height="2" fill="#ff0000"/>
<rect x="701" y="70" width="1" height="15" fill="#000"/>
<rect x="700" y="76" width="3" height="9" fill="#ff0000"/>
<rect x="704" y="74" width="1" height="11" fill="#000"/>
<rect x="703" y="74" width="3" height="11" fill="#00ff00"/>
<rect x="706" y="72" width="1" height="9" fill="#000"/>
<rect x="705" y="74" width="3" height="5" fill="#ff0000"/>
<rect x="709" y="78" width="1" height="10" fill="#000"/>
<rect x="708" y="78" width="3" height="10" fill="#ff0000"/>
<rect x="711" y="87" width="1" height="4" fill="#000"/>
<rect x="710" y="87" width="3" height="4" fill="#ff0000"/>
<rect x="714" y="84" width="1" height="7" fill="#000"/>
<rect x="713" y="84" width="3" height="7" fill="#00ff00"/>
<rect x="716" y="74" width="1" height="11" fill="#000"/>
<rect x="715" y="74" width="3" height="11" fill="#00ff00"/>
<rect x="719" y="74" width="1" height="11" fill="#000"/>
<rect x="718" y="74" width="3" height="11" fill="#ff0000"/>
<rect x="721" y="81" width="1" height="4" fill="#000"/>
<rect x="720" y="81" width="3" height="4" fill="#00ff00"/>
<rect x="724" y="81" width="1" height="11" fill="#000"/>
<rect x="723" y="81" width="3" height="1" fill="#00ff00"/>
<rect x="726" y="81" width="1" height="7" fill="#000"/>
<rect x="725" y="81" width="3" height="5" fill="#ff0000"/>
<rect x="729" y="83" width="1" height="3" fill="#000"/>
<rect x="728" y="83" width="3" height="3" fill="#00ff00"/>
<rect x="731" y="77" width="1" height="8" fill="#000"/>
<rect x="730" y="83" width="3" height="2" fill="#ff0000"/>
<rect x="734" y="80" width="1" height="5" fill="#000"/>
<rect x="733" y="80" width="3" height="5" fill="#00ff00"/>
<rect x="736" y="80" width="1" height="3" fill="#000"/>
<rect x="735" y="80" width="3" height="3" fill="#ff0000"/>
<rect x="739" y="71" width="1" height="12" fill="#000"/>
<rect x="738" y="73" width="3" height="10" fill="#00ff00"/>
<rect x="741" y="62" width="1" height="12" fill="#000"/>
<rect x="740" y="71" width="3" height="3" fill="#00ff00"/>
<rect x="744" y="69" width="1" height="6" fill="#000"/>
<rect x="743" y="71" width="3" height="4" fill="#ff0000"/>
<rect x="746" y="74" width="1" height="8" fill="#000"/>
<rect x="745" y="74" width="3" height="6" fill="#ff0000"/>
<rect x="749" y="77" width="1" height="5" fill="#000"/>
<rect x="748" y="79" width="3" height="3" fill="#ff0000"/>
<rect x="751" y="81" width="1" height="11" fill="#000"/>
<rect x="750" y="81" width="3" height="5" fill="#ff0000"/>
<rect x="754" y="83" width="1" height="7" fill="#000"/>
<rect x="753" y="85" width="3" height="5" fill="#ff0000"/>
<rect x="756" y="89" width="1" height="8" fill="#000"/>
<rect x="755" y="89" width="3" height="6" fill="#ff0000"/>
<rect x="759" y="90" width="1" height="7" fill="#000"/>
<rect x="758" y="94" width="3" height="3" fill="#ff0000"/>
<rect x="761" y="85" width="1" height="12" fill="#000"/>
<rect x="760" y="85" width="3" height="12" fill="#00ff00"/>
<rect x="764" y="80" width="1" height="6" fill="#000"/>
<rect x="763" y="80" width="3" height="6" fill="#00ff00"/>
<rect x="766" y="72" width="1" height="9" fill="#000"/>
<rect x="765" y="72" width="3" height="9" fill="#00ff00"/>
<rect x="769" y="72" width="1" height="9" fill="#000"/>
<rect x="768" y="72" width="3" height="9" fill="#ff0000"/>
<rect x="771" y="67" width="1" height="14" fill="#000"/>
<rect x="770" y="69" width="3" height="12" fill="#00ff00"/>
<rect x="774" y="65" width="1" height="5" fill="#000"/>
<rect x="773" y="67" width="3" height="3" fill="#00ff00"/>
<rect x="776" y="63" width="1" height="9" fill="#000"/>
<rect x="775" y="67" width="3" height="3" fill="#ff0000"/>
<rect x="779" y="69" width="1" height="5" fill="#000"/>
<rect x="778" y="69" width="3" height="5" fill="#ff0000"/>
<rect x="781" y="69" width="1" height="5" fill="#000"/>
<rect x="780" y="69" width="3" height="5" fill="#00ff00"/>
<rect x="784" y="69" width="1" height="5" fill="#000"/>
<rect x="783" y="69" width="3" height="3" fill="#ff0000"/>
<rect x="786" y="71" width="1" height="8" fill="#000"/>
<rect x="785" y="71" width="3" height="8" fill="#ff0000"/>
<rect x="789" y="68" width="1" height="13" fill="#000"/>
<rect x="788" y="68" width="3" height="11" fill="#00ff00"/>
<rect x="792" y="64" width="1" height="7" fill="#000"/>
<rect x="791" y="64" width="3" height="5" fill="#00ff00"/>
<rect x="794" y="58" width="1" height="11" fill="#000"/>
<rect x="793" y="62" width="3" height="3" fill="#00ff00"/>
<rect x="797" y="62" width="1" height="5" fill="#000"/>
<rect x="796" y="62" width="3" height="3" fill="#ff0000"/>
<rect x="799" y="64" width="1" height="3" fill="#000"/>
<rect x="798" y="64" width="3" height="1" fill="#00ff00"/>
<rect x="802" y="51" width="1" height="14" fill="#000"/>
<rect x="801" y="51" width="3" height="14" fill="#00ff00"/>
<rect x="804" y="38" width="1" height="14" fill="#000"/>
<rect x="803" y="47" width="3" height="5" fill="#00ff00"/>
<rect x="807" y="37" width="1" height="11" fill="#000"/>
<rect x="806" y="45" width="3" height="3" fill="#00ff00"/>
<rect x="809" y="43" width="1" height="3" fill="#000"/>
<rect x="808" y="45" width="3" height="1" fill="#ff0000"/>
<rect x="812" y="37" width="1" height="9" fill="#000"/>
<rect x="811" y="37" width="3" height="9" fill="#00ff00"/>
<rect x="814" y="34" width="1" height="8" fill="#000"/>
<rect x="813" y="34" width="3" height="4" fill="#00ff00"/>
<rect x="817" y="25" width="1" height="10" fill="#000"/>
<rect x="816" y="27" width="3" height="8" fill="#00ff00"/>
<rect x="819" y="21" width="1" height="7" fill="#000"/>
<rect x="818" y="21" width="3" height="7" fill="#00ff00"/>
<rect x="822" y="21" width="1" height="10" fill="#000"/>
<rect x="821" y="21" width="3" height="6" fill="#ff0000"/>
<rect x="824" y="24" width="1" height="6" fill="#000"/>
<rect x="823" y="26" width="3" height="2" fill="#ff0000"/>
</g>
<line x1="4" x2="953" y1="423.5" y2="423.5" stroke="#000" stroke-width="1" stroke-dasharray="1 1"/>
<rect x="954" y="423" width="4" height="1" fill="#000"/>
<line x1="4" x2="953" y1="466.5" y2="466.5" stroke="#000" stroke-width="1" stroke-dasharray="1 1"/>
<rect x="954" y="466" width="4" height="1" fill="#000"/>
<line x1="4" x2="953" y1="487.5" y2="487.5" stroke="#ff6010" stroke-width="1" stroke-dasharray="1 1"/>
<rect x="954" y="487" width="4" height="1" fill="#000"/>
<line x1="4" x2="953" y1="508.5" y2="508.5" stroke="#ff6010" stroke-width="1" stroke-dasharray="1 1"/>
<rect x="954" y="508" width="4" height="1" fill="#000"/>
<line x1="4" x2="953" y1="550.5" y2="550.5" stroke="#000" stroke-width="1" stroke-dasharray="1 1"/>
<rect x="954" y="550" width="4" height="1" fill="#000"/>
<line x1="4" x2="953" y1="592.5" y2="592.5" stroke="#000" stroke-width="1" stroke-dasharray="1 1"/>
<rect x="954" y="592" width="4" height="1" fill="#000"/>
<rect x="5" y="428" width="52" height="163" fill="#afeeee"/>
<rect x="57" y="428" width="418" height="163" fill="#ffd396"/>
<rect x="475" y="428" width="141" height="163" fill="#afeeee"/>
<rect x="616" y="428" width="209" height="163" fill="#ffd396"/>
<rect x="1" y="414" width="125" height="15" fill="#fff"/>
<rect x="5" y="591" width="820" height="27" fill="#0078ff"/>
<polygon points="5.0,592.0 5.0,597.6 8.4,601.0 16.8,599.8 20.0,596.8 25.0,595.0 30.0,596.8 33.5,598.4 37.7,595.4 43.6,597.1 50.3,596.8 57.0,600.0 60.4,601.5 62.9,596.8 62.9,592.0" fill="#fff"/>
<polygon points="491.8,592.0 492.6,595.9 500.2,595.9 506.0,599.3 516.9,600.1 520.3,601.8 525.3,600.1 532.0,601.8 543.8,601.5 550.5,598.8 560.5,599.3 568.1,597.6 571.1,593.4 571.1,592.0" fill="#fff"/>
<polygon points="769.0,592.0 769.0,594.8 784.0,594.8 785.0,596.0 786.0,594.8 800.1,594.8 800.1,592.0" fill="#fff"/>
<polygon points="62.8,591.5 103.9,591.5 103.9,572.7 104.8,551.6 106.8,557.5 107.7,565.1 109.0,550.7 110.2,535.5 111.9,520.3 113.0,509.6 115.0,485.0 121.8,480.8 126.9,485.9 130.2,488.4 133.6,485.9 137.0,477.4 142.1,472.7 150.5,471.9 155.6,468.1 161.1,466.6 165.4,469.5 169.6,480.5 173.8,479.5 181.4,474.5 183.1,471.0 184.8,474.0 190.7,475.4 194.1,477.9 198.4,480.1 200.9,480.1 207.7,478.0 212.7,477.0 217.5,474.5 222.9,479.0 229.6,480.5 236.4,478.5 243.2,480.1 248.3,483.0 258.4,483.0 260.9,483.0 263.5,488.1 266.0,502.4 269.4,506.7 273.6,509.5 283.8,508.4 285.8,505.8 288.8,510.6 292.2,509.2 294.8,513.4 296.0,521.9 299.0,521.0 301.5,509.2 305.1,496.5 310.1,500.4 314.4,500.7 316.9,497.7 319.5,502.4 321.1,510.9 323.7,512.9 326.2,509.2 327.9,503.8 329.6,510.9 331.0,526.1 333.0,519.3 334.3,518.5 335.9,533.7 337.6,531.2 340.6,519.3 343.1,504.1 345.7,493.6 348.2,491.4 354.1,493.6 359.2,496.5 364.3,496.5 367.7,493.6 370.2,491.4 373.6,494.3 377.0,494.3 382.9,491.4 385.4,488.1 388.0,483.0 390.5,488.6 393.9,488.6 398.1,487.6 401.5,484.7 408.3,483.5 412.5,485.2 418.4,488.6 423.5,492.6 428.6,492.3 433.6,492.3 440.4,493.1 443.8,496.5 448.9,499.9 452.2,502.8 456.5,499.9 458.9,499.3 462.7,505.1 466.6,514.8 469.5,517.7 470.8,534.1 473.4,561.1 475.3,576.6 477.2,590.1 478.2,591.5 594.3,591.5 596.8,572.7 599.7,552.4 601.2,556.3 603.1,568.9 605.1,556.3 608.4,572.7 611.3,563.1 614.2,545.7 615.5,526.4 617.0,532.2 619.0,528.3 621.9,514.8 626.3,498.4 628.6,518.6 631.5,553.4 634.4,580.5 636.4,591.5 641.2,591.5 643.1,572.7 646.0,538.0 648.0,547.6 650.9,566.9 653.8,585.3 656.1,588.6 657.6,572.7 659.6,538.0 662.5,509.0 664.4,504.2 670.2,505.1 673.1,503.2 676.0,510.9 677.9,538.0 680.8,566.9 682.7,580.5 683.7,590.1 685.1,572.7 687.6,538.0 689.5,512.8 691.4,497.4 693.4,514.8 696.3,538.0 700.1,570.8 703.6,590.1 705.0,591.5 805.5,591.5 806.1,580.6 807.9,566.3 809.5,563.7 812.6,537.8 814.2,518.9 815.6,508.3 817.1,501.5 818.0,494.8 819.5,493.3 821.9,496.7 824.5,501.1 825.0,501.1 825.0,591.0 62.8,591.0" fill="#ddffdd"/>
<polygon points="62.5,591.5 62.8,591.3 63.7,576.1 65.4,550.7 66.2,538.9 67.1,525.4 69.6,515.2 71.3,521.1 77.2,509.6 82.3,516.4 87.4,505.1 92.4,503.4 99.2,502.0 101.7,500.0 104.9,491.0 109.1,489.3 115.0,476.3 121.8,474.9 126.0,477.9 131.9,479.5 135.3,475.4 141.2,470.7 149.7,469.8 154.8,467.3 154.8,467.3 155.2,466.9 161.1,464.4 165.4,467.8 169.6,478.8 173.8,477.9 181.4,472.8 183.1,466.9 184.8,472.0 190.7,471.1 194.1,463.5 197.5,461.0 199.2,468.6 200.9,477.9 207.7,476.2 212.7,475.4 217.5,472.3 222.9,477.1 229.6,478.8 236.4,476.7 243.2,477.9 249.9,481.8 253.3,480.4 258.4,481.3 260.1,477.1 261.4,471.1 264.3,477.9 264.3,477.9 266.9,480.4 269.4,488.9 271.9,494.8 274.5,502.8 280.4,500.7 286.3,499.1 288.8,500.2 293.9,499.9 296.5,504.1 299.0,504.1 302.5,496.5 305.9,493.1 310.1,496.5 316.1,496.0 318.6,499.1 321.1,494.8 324.5,495.7 326.2,494.0 328.8,500.7 331.3,508.4 334.7,505.8 338.1,506.7 341.4,500.7 344.3,491.4 346.5,486.9 352.4,487.2 359.2,487.6 367.7,486.9 371.0,485.9 373.6,488.6 379.5,488.6 383.7,486.9 385.4,481.3 388.0,477.9 390.5,482.1 392.2,485.2 394.7,484.7 397.3,479.6 399.8,476.2 402.0,474.5 402.0,474.5 403.2,466.9 404.9,464.4 409.9,464.4 415.0,466.1 417.6,467.8 417.6,467.8 419.2,470.3 421.8,479.6 421.8,479.6 423.5,473.7 426.0,472.0 429.4,471.7 429.4,471.7 431.1,480.4 432.3,489.7 432.3,490.6 435.3,489.7 438.7,489.7 442.9,493.6 442.9,493.6 445.5,496.5 449.7,498.2 452.2,499.9 456.5,498.2 459.8,497.8 463.7,501.3 467.6,506.1 470.5,507.0 472.0,516.7 473.4,530.2 475.3,553.4 477.2,572.7 479.2,588.2 480.1,591.1 482.0,565.0 484.9,556.9 486.9,565.0 489.8,582.4 491.7,591.1 492.0,591.5 593.5,591.5 594.3,572.7 596.8,538.0 598.7,518.6 600.0,509.0 604.5,507.0 606.4,513.8 608.4,518.6 611.3,513.8 615.1,502.2 619.0,500.3 621.9,496.4 625.7,491.2 628.6,494.5 630.6,509.0 633.5,526.4 636.4,525.4 638.3,520.6 642.2,518.6 646.0,505.1 648.9,505.1 651.4,508.0 652.8,534.1 653.8,550.5 656.7,539.9 659.6,514.8 661.5,498.4 664.4,496.4 667.3,497.4 672.1,496.4 673.5,492.6 676.0,492.6 677.9,499.3 679.8,518.6 682.7,547.6 683.7,554.4 685.6,543.8 688.5,509.0 691.4,492.0 694.3,499.3 698.2,514.8 701.1,541.8 704.0,580.5 705.9,591.5 804.3,591.5 804.8,584.4 806.1,563.7 808.7,537.8 811.7,518.9 813.2,510.2 814.6,500.6 816.1,492.9 817.1,487.5 819.0,484.6 819.5,483.2 819.5,483.2 822.4,475.5 822.4,475.5 823.3,477.9 824.5,480.3 825.0,480.3 825.0,501.1 824.5,501.1 821.9,496.7 819.5,493.3 818.0,494.8 817.1,501.5 815.6,508.3 814.2,518.9 812.6,537.8 809.5,563.7 807.9,566.3 806.1,580.6 805.5,591.5 705.0,591.5 703.6,590.1 700.1,570.8 696.3,538.0 693.4,514.8 691.4,497.4 689.5,512.8 687.6,538.0 685.1,572.7 683.7,590.1 682.7,580.5 680.8,566.9 677.9,538.0 676.0,510.9 673.1,503.2 670.2,505.1 664.4,504.2 662.5,509.0 659.6,538.0 657.6,572.7 656.1,588.6 653.8,585.3 650.9,566.9 648.0,547.6 646.0,538.0 643.1,572.7 641.2,591.5 636.4,591.5 634.4,580.5 631.5,553.4 628.6,518.6 626.3,498.4 621.9,514.8 619.0,528.3 617.0,532.2 615.5,526.4 614.2,545.7 611.3,563.1 608.4,572.7 605.1,556.3 603.1,568.9 601.2,556.3 599.7,552.4 596.8,572.7 594.3,591.5 478.2,591.5 477.2,590.1 475.3,576.6 473.4,561.1 470.8,534.1 469.5,517.7 466.6,514.8 462.7,505.1 458.9,499.3 456.5,499.9 452.2,502.8 448.9,499.9 443.8,496.5 440.4,493.1 433.6,492.3 428.6,492.3 423.5,492.6 418.4,488.6 412.5,485.2 408.3,483.5 401.5,484.7 398.1,487.6 393.9,488.6 390.5,488.6 388.0,483.0 385.4,488.1 382.9,491.4 377.0,494.3 373.6,494.3 370.2,491.4 367.7,493.6 364.3,496.5 359.2,496.5 354.1,493.6 348.2,491.4 345.7,493.6 343.1,504.1 340.6,519.3 337.6,531.2 335.9,533.7 334.3,518.5 333.0,519.3 331.0,526.1 329.6,510.9 327.9,503.8 326.2,509.2 323.7,512.9 321.1,510.9 319.5,502.4 316.9,497.7 314.4,500.7 310.1,500.4 305.1,496.5 301.5,509.2 299.0,521.0 296.0,521.9 294.8,513.4 292.2,509.2 288.8,510.6 285.8,505.8 283.8,508.4 273.6,509.5 269.4,506.7 266.0,502.4 263.5,488.1 260.9,483.0 258.4,483.0 248.3,483.0 243.2,480.1 236.4,478.5 229.6,480.5 222.9,479.0 217.5,474.5 212.7,477.0 207.7,478.0 200.9,480.1 198.4,480.1 194.1,477.9 190.7,475.4 184.8,474.0 183.1,471.0 181.4,474.5 173.8,479.5 169.6,480.5 165.4,469.5 161.1,466.6 155.6,468.1 150.5,471.9 142.1,472.7 137.0,477.4 133.6,485.9 130.2,488.4 126.9,485.9 121.8,480.8 115.0,485.0 113.0,509.6 111.9,520.3 110.2,535.5 109.0,550.7 107.7,565.1 106.8,557.5 104.8,551.6 103.9,572.7 103.9,591.5 62.8,591.5" fill="#dcdcdc"/>
<polygon points="62.5,591.5 62.8,591.3 63.7,576.1 65.4,550.7 66.2,538.9 67.1,525.4 69.6,515.2 71.3,521.1 77.2,509.6 82.3,516.4 87.4,505.1 92.4,503.4 99.2,502.0 101.7,500.0 104.9,491.0 109.1,489.3 115.0,476.3 121.8,474.9 126.0,477.9 131.9,479.5 135.3,475.4 141.2,470.7 149.7,469.8 154.8,467.3 154.8,467.3 155.2,466.9 161.1,464.4 165.4,467.8 169.6,478.8 173.8,477.9 181.4,472.8 183.1,466.9 184.8,472.0 190.7,471.1 194.1,463.5 197.5,461.0 199.2,468.6 200.9,477.9 207.7,476.2 212.7,475.4 217.5,472.3 222.9,477.1 229.6,478.8 236.4,476.7 243.2,477.9 249.9,481.8 253.3,480.4 258.4,481.3 260.1,477.1 261.4,471.1 264.3,477.9 264.3,477.9 266.9,480.4 269.4,488.9 271.9,494.8 274.5,502.8 280.4,500.7 286.3,499.1 288.8,500.2 293.9,499.9 296.5,504.1 299.0,504.1 302.5,496.5 305.9,493.1 310.1,496.5 316.1,496.0 318.6,499.1 321.1,494.8 324.5,495.7 326.2,494.0 328.8,500.7 331.3,508.4 334.7,505.8 338.1,506.7 341.4,500.7 344.3,491.4 346.5,486.9 352.4,487.2 359.2,487.6 367.7,486.9 371.0,485.9 373.6,488.6 379.5,488.6 383.7,486.9 385.4,481.3 388.0,477.9 390.5,482.1 392.2,485.2 394.7,484.7 397.3,479.6 399.8,476.2 402.0,474.5 402.0,474.5 403.2,466.9 404.9,464.4 409.9,464.4 415.0,466.1 417.6,467.8 417.6,467.8 419.2,470.3 421.8,479.6 421.8,479.6 423.5,473.7 426.0,472.0 429.4,471.7 429.4,471.7 431.1,480.4 432.3,489.7 432.3,490.6 435.3,489.7 438.7,489.7 442.9,493.6 442.9,493.6 445.5,496.5 449.7,498.2 452.2,499.9 456.5,498.2 459.8,497.8 463.7,501.3 467.6,506.1 470.5,507.0 472.0,516.7 473.4,530.2 475.3,553.4 477.2,572.7 479.2,588.2 480.1,591.1 482.0,565.0 484.9,556.9 486.9,565.0 489.8,582.4 491.7,591.1 492.0,591.5 593.5,591.5 594.3,572.7 596.8,538.0 598.7,518.6 600.0,509.0 604.5,507.0 606.4,513.8 608.4,518.6 611.3,513.8 615.1,502.2 619.0,500.3 621.9,496.4 625.7,491.2 628.6,494.5 630.6,509.0 633.5,526.4 636.4,525.4 638.3,520.6 642.2,518.6 646.0,505.1 648.9,505.1 651.4,508.0 652.8,534.1 653.8,550.5 656.7,539.9 659.6,514.8 661.5,498.4 664.4,496.4 667.3,497.4 672.1,496.4 673.5,492.6 676.0,492.6 677.9,499.3 679.8,518.6 682.7,547.6 683.7,554.4 685.6,543.8 688.5,509.0 691.4,492.0 694.3,499.3 698.2,514.8 701.1,541.8 704.0,580.5 705.9,591.5 804.3,591.5 804.8,584.4 806.1,563.7 808.7,537.8 811.7,518.9 813.2,510.2 814.6,500.6 816.1,492.9 817.1,487.5 819.0,484.6 819.5,483.2 819.5,483.2 822.4,475.5 822.4,475.5 823.3,477.9 824.5,480.3 825.0,480.3 825.0,501.1 824.5,501.1 821.9,496.7 819.5,493.3 818.0,494.8 817.1,501.5 815.6,508.3 814.2,518.9 812.6,537.8 809.5,563.7 807.9,566.3 806.1,580.6 805.5,591.5 705.0,591.5 703.6,590.1 700.1,570.8 696.3,538.0 693.4,514.8 691.4,497.4 689.5,512.8 687.6,538.0 685.1,572.7 683.7,590.1 682.7,580.5 680.8,566.9 677.9,538.0 676.0,510.9 673.1,503.2 670.2,505.1 664.4,504.2 662.5,509.0 659.6,538.0 657.6,572.7 656.1,588.6 653.8,585.3 650.9,566.9 648.0,547.6 646.0,538.0 643.1,572.7 641.2,591.5 636.4,591.5 634.4,580.5 631.5,553.4 628.6,518.6 626.3,498.4 621.9,514.8 619.0,528.3 617.0,532.2 615.5,526.4 614.2,545.7 611.3,563.1 608.4,572.7 605.1,556.3 603.1,568.9 601.2,556.3 599.7,552.4 596.8,572.7 594.3,591.5 478.2,591.5 477.2,590.1 475.3,576.6 473.4,561.1 470.8,534.1 469.5,517.7 466.6,514.8 462.7,505.1 458.9,499.3 456.5,499.9 452.2,502.8 448.9,499.9 443.8,496.5 440.4,493.1 433.6,492.3 428.6,492.3 423.5,492.6 418.4,488.6 412.5,485.2 408.3,483.5 401.5,484.7 398.1,487.6 393.9,488.6 390.5,488.6 388.0,483.0 385.4,488.1 382.9,491.4 377.0,494.3 373.6,494.3 370.2,491.4 367.7,493.6 364.3,496.5 359.2,496.5 354.1,493.6 348.2,491.4 345.7,493.6 343.1,504.1 340.6,519.3 337.6,531.2 335.9,533.7 334.3,518.5 333.0,519.3 331.0,526.1 329.6,510.9 327.9,503.8 326.2,509.2 323.7,512.9 321.1,510.9 319.5,502.4 316.9,497.7 314.4,500.7 310.1,500.4 305.1,496.5 301.5,509.2 299.0,521.0 296.0,521.9 294.8,513.4 292.2,509.2 288.8,510.6 285.8,505.8 283.8,508.4 273.6,509.5 269.4,506.7 266.0,502.4 263.5,488.1 260.9,483.0 258.4,483.0 248.3,483.0 243.2,480.1 236.4,478.5 229.6,480.5 222.9,479.0 217.5,474.5 212.7,477.0 207.7,478.0 200.9,480.1 198.4,480.1 194.1,477.9 190.7,475.4 184.8,474.0 183.1,471.0 181.4,474.5 173.8,479.5 169.6,480.5 165.4,469.5 161.1,466.6 155.6,468.1 150.5,471.9 142.1,472.7 137.0,477.4 133.6,485.9 130.2,488.4 126.9,485.9 121.8,480.8 115.0,485.0 113.0,509.6 111.9,520.3 110.2,535.5 109.0,550.7 107.7,565.1 106.8,557.5 104.8,551.6 103.9,572.7 103.9,591.5 62.8,591.5" fill="#ffff00" clip-path="url(#cy)"/>
<polygon points="62.5,591.5 62.8,591.3 63.7,576.1 65.4,550.7 66.2,538.9 67.1,525.4 69.6,515.2 71.3,521.1 77.2,509.6 82.3,516.4 87.4,505.1 92.4,503.4 99.2,502.0 101.7,500.0 104.9,491.0 109.1,489.3 115.0,476.3 121.8,474.9 126.0,477.9 131.9,479.5 135.3,475.4 141.2,470.7 149.7,469.8 154.8,467.3 154.8,467.3 155.2,466.9 161.1,464.4 165.4,467.8 169.6,478.8 173.8,477.9 181.4,472.8 183.1,466.9 184.8,472.0 190.7,471.1 194.1,463.5 197.5,461.0 199.2,468.6 200.9,477.9 207.7,476.2 212.7,475.4 217.5,472.3 222.9,477.1 229.6,478.8 236.4,476.7 243.2,477.9 249.9,481.8 253.3,480.4 258.4,481.3 260.1,477.1 261.4,471.1 264.3,477.9 264.3,477.9 266.9,480.4 269.4,488.9 271.9,494.8 274.5,502.8 280.4,500.7 286.3,499.1 288.8,500.2 293.9,499.9 296.5,504.1 299.0,504.1 302.5,496.5 305.9,493.1 310.1,496.5 316.1,496.0 318.6,499.1 321.1,494.8 324.5,495.7 326.2,494.0 328.8,500.7 331.3,508.4 334.7,505.8 338.1,506.7 341.4,500.7 344.3,491.4 346.5,486.9 352.4,487.2 359.2,487.6 367.7,486.9 371.0,485.9 373.6,488.6 379.5,488.6 383.7,486.9 385.4,481.3 388.0,477.9 390.5,482.1 392.2,485.2 394.7,484.7 397.3,479.6 399.8,476.2 402.0,474.5 402.0,474.5 403.2,466.9 404.9,464.4 409.9,464.4 415.0,466.1 417.6,467.8 417.6,467.8 419.2,470.3 421.8,479.6 421.8,479.6 423.5,473.7 426.0,472.0 429.4,471.7 429.4,471.7 431.1,480.4 432.3,489.7 432.3,490.6 435.3,489.7 438.7,489.7 442.9,493.6 442.9,493.6 445.5,496.5 449.7,498.2 452.2,499.9 456.5,498.2 459.8,497.8 463.7,501.3 467.6,506.1 470.5,507.0 472.0,516.7 473.4,530.2 475.3,553.4 477.2,572.7 479.2,588.2 480.1,591.1 482.0,565.0 484.9,556.9 486.9,565.0 489.8,582.4 491.7,591.1 492.0,591.5 593.5,591.5 594.3,572.7 596.8,538.0 598.7,518.6 600.0,509.0 604.5,507.0 606.4,513.8 608.4,518.6 611.3,513.8 615.1,502.2 619.0,500.3 621.9,496.4 625.7,491.2 628.6,494.5 630.6,509.0 633.5,526.4 636.4,525.4 638.3,520.6 642.2,518.6 646.0,505.1 648.9,505.1 651.4,508.0 652.8,534.1 653.8,550.5 656.7,539.9 659.6,514.8 661.5,498.4 664.4,496.4 667.3,497.4 672.1,496.4 673.5,492.6 676.0,492.6 677.9,499.3 679.8,518.6 682.7,547.6 683.7,554.4 685.6,543.8 688.5,509.0 691.4,492.0 694.3,499.3 698.2,514.8 701.1,541.8 704.0,580.5 705.9,591.5 804.3,591.5 804.8,584.4 806.1,563.7 808.7,537.8 811.7,518.9 813.2,510.2 814.6,500.6 816.1,492.9 817.1,487.5 819.0,484.6 819.5,483.2 819.5,483.2 822.4,475.5 822.4,475.5 823.3,477.9 824.5,480.3 825.0,480.3 825.0,501.1 824.5,501.1 821.9,496.7 819.5,493.3 818.0,494.8 817.1,501.5 815.6,508.3 814.2,518.9 812.6,537.8 809.5,563.7 807.9,566.3 806.1,580.6 805.5,591.5 705.0,591.5 703.6,590.1 700.1,570.8 696.3,538.0 693.4,514.8 691.4,497.4 689.5,512.8 687.6,538.0 685.1,572.7 683.7,590.1 682.7,580.5 680.8,566.9 677.9,538.0 676.0,510.9 673.1,503.2 670.2,505.1 664.4,504.2 662.5,509.0 659.6,538.0 657.6,572.7 656.1,588.6 653.8,585.3 650.9,566.9 648.0,547.6 646.0,538.0 643.1,572.7 641.2,591.5 636.4,591.5 634.4,580.5 631.5,553.4 628.6,518.6 626.3,498.4 621.9,514.8 619.0,528.3 617.0,532.2 615.5,526.4 614.2,545.7 611.3,563.1 608.4,572.7 605.1,556.3 603.1,568.9 601.2,556.3 599.7,552.4 596.8,572.7 594.3,591.5 478.2,591.5 477.2,590.1 475.3,576.6 473.4,561.1 470.8,534.1 469.5,517.7 466.6,514.8 462.7,505.1 458.9,499.3 456.5,499.9 452.2,502.8 448.9,499.9 443.8,496.5 440.4,493.1 433.6,492.3 428.6,492.3 423.5,492.6 418.4,488.6 412.5,485.2 408.3,483.5 401.5,484.7 398.1,487.6 393.9,488.6 390.5,488.6 388.0,483.0 385.4,488.1 382.9,491.4 377.0,494.3 373.6,494.3 370.2,491.4 367.7,493.6 364.3,496.5 359.2,496.5 354.1,493.6 348.2,491.4 345.7,493.6 343.1,504.1 340.6,519.3 337.6,531.2 335.9,533.7 334.3,518.5 333.0,519.3 331.0,526.1 329.6,510.9 327.9,503.8 326.2,509.2 323.7,512.9 321.1,510.9 319.5,502.4 316.9,497.7 314.4,500.7 310.1,500.4 305.1,496.5 301.5,509.2 299.0,521.0 296.0,521.9 294.8,513.4 292.2,509.2 288.8,510.6 285.8,505.8 283.8,508.4 273.6,509.5 269.4,506.7 266.0,502.4 263.5,488.1 260.9,483.0 258.4,483.0 248.3,483.0 243.2,480.1 236.4,478.5 229.6,480.5 222.9,479.0 217.5,474.5 212.7,477.0 207.7,478.0 200.9,480.1 198.4,480.1 194.1,477.9 190.7,475.4 184.8,474.0 183.1,471.0 181.4,474.5 173.8,479.5 169.6,480.5 165.4,469.5 161.1,466.6 155.6,468.1 150.5,471.9 142.1,472.7 137.0,477.4 133.6,485.9 130.2,488.4 126.9,485.9 121.8,480.8 115.0,485.0 113.0,509.6 111.9,520.3 110.2,535.5 109.0,550.7 107.7,565.1 106.8,557.5 104.8,551.6 103.9,572.7 103.9,591.5 62.8,591.5" fill="#ddffdd" clip-path="url(#clg)"/>
<polygon points="260.3,482.0 260.9,478.0 264.2,480.3 267.1,489.3 269.9,497.2 272.7,504.5 273.3,507.4 272.7,508.5 269.3,506.5 266.5,502.5 265.4,493.8 262.5,484.2" fill="#ffff00"/>
<polyline points="62.8,591.5 103.9,591.5 103.9,572.7 104.8,551.6 106.8,557.5 107.7,565.1 109.0,550.7 110.2,535.5 111.9,520.3 113.0,509.6 115.0,485.0 121.8,480.8 126.9,485.9 130.2,488.4 133.6,485.9 137.0,477.4 142.1,472.7 150.5,471.9 155.6,468.1 161.1,466.6 165.4,469.5 169.6,480.5 173.8,479.5 181.4,474.5 183.1,471.0 184.8,474.0 190.7,475.4 194.1,477.9 198.4,480.1 200.9,480.1 207.7,478.0 212.7,477.0 217.5,474.5 222.9,479.0 229.6,480.5 236.4,478.5 243.2,480.1 248.3,483.0 258.4,483.0 260.9,483.0 263.5,488.1 266.0,502.4 269.4,506.7 273.6,509.5 283.8,508.4 285.8,505.8 288.8,510.6 292.2,509.2 294.8,513.4 296.0,521.9 299.0,521.0 301.5,509.2 305.1,496.5 310.1,500.4 314.4,500.7 316.9,497.7 319.5,502.4 321.1,510.9 323.7,512.9 326.2,509.2 327.9,503.8 329.6,510.9 331.0,526.1 333.0,519.3 334.3,518.5 335.9,533.7 337.6,531.2 340.6,519.3 343.1,504.1 345.7,493.6 348.2,491.4 354.1,493.6 359.2,496.5 364.3,496.5 367.7,493.6 370.2,491.4 373.6,494.3 377.0,494.3 382.9,491.4 385.4,488.1 388.0,483.0 390.5,488.6 393.9,488.6 398.1,487.6 401.5,484.7 408.3,483.5 412.5,485.2 418.4,488.6 423.5,492.6 428.6,492.3 433.6,492.3 440.4,493.1 443.8,496.5 448.9,499.9 452.2,502.8 456.5,499.9 458.9,499.3 462.7,505.1 466.6,514.8 469.5,517.7 470.8,534.1 473.4,561.1 475.3,576.6 477.2,590.1 478.2,591.5 491.7,591.5" fill="none" stroke="#008000" stroke-width="2" stroke-linejoin="bevel"/>
<polyline points="594.3,591.5 596.8,572.7 599.7,552.4 601.2,556.3 603.1,568.9 605.1,556.3 608.4,572.7 611.3,563.1 614.2,545.7 615.5,526.4 617.0,532.2 619.0,528.3 621.9,514.8 626.3,498.4 628.6,518.6 631.5,553.4 634.4,580.5 636.4,591.5 641.2,591.5 643.1,572.7 646.0,538.0 648.0,547.6 650.9,566.9 653.8,585.3 656.1,588.6 657.6,572.7 659.6,538.0 662.5,509.0 664.4,504.2 670.2,505.1 673.1,503.2 676.0,510.9 677.9,538.0 680.8,566.9 682.7,580.5 683.7,590.1 685.1,572.7 687.6,538.0 689.5,512.8 691.4,497.4 693.4,514.8 696.3,538.0 700.1,570.8 703.6,590.1 705.0,591.5" fill="none" stroke="#008000" stroke-width="2" stroke-linejoin="bevel"/>
<polyline points="805.5,591.5 806.1,580.6 807.9,566.3 809.5,563.7 812.6,537.8 814.2,518.9 815.6,508.3 817.1,501.5 818.0,494.8 819.5,493.3 821.9,496.7 824.5,501.1" fill="none" stroke="#008000" stroke-width="2" stroke-linejoin="bevel"/>
<rect x="5.0" y="591" width="57.5" height="1" fill="#0000ff"/>
<polyline points="62.5,591.5 62.8,591.3 63.7,576.1 65.4,550.7 66.2,538.9 67.1,525.4 69.6,515.2 71.3,521.1 77.2,509.6 82.3,516.4 87.4,505.1 92.4,503.4 99.2,502.0 101.7,500.0 104.9,491.0 109.1,489.3 115.0,476.3 121.8,474.9 126.0,477.9 131.9,479.5 135.3,475.4 141.2,470.7 149.7,469.8 154.8,467.3" fill="none" stroke="#0000ff" stroke-width="2" stroke-linejoin="bevel"/>
<polyline points="264.3,477.9 266.9,480.4 269.4,488.9 271.9,494.8 274.5,502.8 280.4,500.7 286.3,499.1 288.8,500.2 293.9,499.9 296.5,504.1 299.0,504.1 302.5,496.5 305.9,493.1 310.1,496.5 316.1,496.0 318.6,499.1 321.1,494.8 324.5,495.7 326.2,494.0 328.8,500.7 331.3,508.4 334.7,505.8 338.1,506.7 341.4,500.7 344.3,491.4 346.5,486.9 352.4,487.2 359.2,487.6 367.7,486.9 371.0,485.9 373.6,488.6 379.5,488.6 383.7,486.9 385.4,481.3 388.0,477.9 390.5,482.1 392.2,485.2 394.7,484.7 397.3,479.6 399.8,476.2 402.0,474.5" fill="none" stroke="#0000ff" stroke-width="2" stroke-linejoin="bevel"/>
<polyline points="417.6,467.8 419.2,470.3 421.8,479.6" fill="none" stroke="#0000ff" stroke-width="2" stroke-linejoin="bevel"/>
<polyline points="429.4,471.7 431.1,480.4 432.3,489.7" fill="none" stroke="#0000ff" stroke-width="2" stroke-linejoin="bevel"/>
<polyline points="442.9,493.6 445.5,496.5 449.7,498.2 452.2,499.9 456.5,498.2 459.8,497.8 463.7,501.3 467.6,506.1 470.5,507.0 472.0,516.7 473.4,530.2 475.3,553.4 477.2,572.7 479.2,588.2 480.1,591.1 482.0,565.0 484.9,556.9 486.9,565.0 489.8,582.4 491.7,591.1 492.0,591.5" fill="none" stroke="#0000ff" stroke-width="2" stroke-linejoin="bevel"/>
<rect x="492.0" y="591" width="101.5" height="1" fill="#0000ff"/>
<polyline points="593.5,591.5 594.3,572.7 596.8,538.0 598.7,518.6 600.0,509.0 604.5,507.0 606.4,513.8 608.4,518.6 611.3,513.8 615.1,502.2 619.0,500.3 621.9,496.4 625.7,491.2 628.6,494.5 630.6,509.0 633.5,526.4 636.4,525.4 638.3,520.6 642.2,518.6 646.0,505.1 648.9,505.1 651.4,508.0 652.8,534.1 653.8,550.5 656.7,539.9 659.6,514.8 661.5,498.4 664.4,496.4 667.3,497.4 672.1,496.4 673.5,492.6 676.0,492.6 677.9,499.3 679.8,518.6 682.7,547.6 683.7,554.4 685.6,543.8 688.5,509.0 691.4,492.0 694.3,499.3 698.2,514.8 701.1,541.8 704.0,580.5 705.9,591.5" fill="none" stroke="#0000ff" stroke-width="2" stroke-linejoin="bevel"/>
<rect x="705.9" y="591" width="98.4" height="1" fill="#0000ff"/>
<polyline points="804.3,591.5 804.8,584.4 806.1,563.7 808.7,537.8 811.7,518.9 813.2,510.2 814.6,500.6 816.1,492.9 817.1,487.5 819.0,484.6 819.5,483.2" fill="none" stroke="#0000ff" stroke-width="2" stroke-linejoin="bevel"/>
<polyline points="822.4,475.5 823.3,477.9 824.5,480.3" fill="none" stroke="#0000ff" stroke-width="2" stroke-linejoin="bevel"/>
<polyline points="154.8,468.3 155.2,467.9 161.1,465.4 165.4,468.8 169.6,479.8 173.8,478.9 181.4,473.8 183.1,467.9 184.8,473.0 190.7,472.1 194.1,464.5 197.5,462.0 199.2,469.6 200.9,478.9 207.7,477.2 212.7,476.4 217.5,473.3 222.9,478.1 229.6,479.8 236.4,477.7 243.2,478.9 249.9,482.8 253.3,481.4 258.4,482.3 260.1,478.1 261.4,472.1 264.3,478.9" fill="none" stroke="#ff0000" stroke-width="4" stroke-linejoin="round"/>
<polyline points="402.0,475.5 403.2,467.9 404.9,465.4 409.9,465.4 415.0,467.1 417.6,468.8" fill="none" stroke="#ff0000" stroke-width="5" stroke-linejoin="round"/>
<polyline points="421.8,480.6 423.5,474.7 426.0,473.0 429.4,472.7" fill="none" stroke="#ff0000" stroke-width="5" stroke-linejoin="round"/>
<polyline points="432.3,491.6 435.3,490.7 438.7,490.7 442.9,494.6" fill="none" stroke="#ff0000" stroke-width="5" stroke-linejoin="round"/>
<polyline points="819.5,484.2 822.4,476.5" fill="none" stroke="#ff0000" stroke-width="3" stroke-linejoin="round"/>
<polygon points="7.0,605 1.5,616 12.5,616" fill="#000"/>
<polygon points="9.6,605 4.1,616 15.1,616" fill="#000"/>
<polygon points="12.1,605 6.6,616 17.6,616" fill="#000"/>
<polygon points="14.6,605 9.1,616 20.1,616" fill="#000"/>
<polygon points="17.1,605 11.6,616 22.6,616" fill="#000"/>
<polygon points="30.5,605 25.0,616 36.0,616" fill="#000"/>
<polygon points="55.7,605 50.2,616 61.2,616" fill="#000"/>
<polygon points="196.2,442 190.7,432 201.7,432" fill="#808080"/>
<polygon points="198.7,442 193.2,432 204.2,432" fill="#808080"/>
<polygon points="266.4,442 260.9,432 271.9,432" fill="#808080"/>
<polygon points="268.9,442 263.4,432 274.4,432" fill="#808080"/>
<polygon points="271.4,442 265.9,432 276.9,432" fill="#808080"/>
<polygon points="321.3,442 315.8,432 326.8,432" fill="#808080"/>
<polygon points="323.8,442 318.3,432 329.3,432" fill="#808080"/>
<polygon points="326.4,442 320.9,432 331.9,432" fill="#808080"/>
<polygon points="387.2,442 381.7,432 392.7,432" fill="#808080"/>
<polygon points="389.7,442 384.2,432 395.2,432" fill="#808080"/>
<polygon points="397.8,442 392.3,432 403.3,432" fill="#808080"/>
<polygon points="400.3,442 394.8,432 405.8,432" fill="#808080"/>
<polygon points="402.8,442 397.3,432 408.3,432" fill="#808080"/>
<polygon points="405.3,442 399.8,432 410.8,432" fill="#808080"/>
<polygon points="407.9,442 402.4,432 413.4,432" fill="#808080"/>
<polygon points="410.4,442 404.9,432 415.9,432" fill="#808080"/>
<polygon points="412.9,442 407.4,432 418.4,432" fill="#808080"/>
<polygon points="415.4,442 409.9,432 420.9,432" fill="#808080"/>
<polygon points="417.9,442 412.4,432 423.4,432" fill="#808080"/>
<polygon points="420.4,442 414.9,432 425.9,432" fill="#808080"/>
<polygon points="422.9,442 417.4,432 428.4,432" fill="#808080"/>
<polygon points="425.5,442 420.0,432 431.0,432" fill="#808080"/>
<polygon points="428.0,442 422.5,432 433.5,432" fill="#808080"/>
<polygon points="430.5,442 425.0,432 436.0,432" fill="#808080"/>
<polygon points="673.3,442 667.8,432 678.8,432" fill="#808080"/>
<polygon points="675.8,442 670.3,432 681.3,432" fill="#808080"/>
<polygon points="678.3,442 672.8,432 683.8,432" fill="#808080"/>
<polygon points="680.8,442 675.3,432 686.3,432" fill="#808080"/>
<polygon points="683.4,442 677.9,432 688.9,432" fill="#808080"/>
<polygon points="685.9,442 680.4,432 691.4,432" fill="#808080"/>
<polygon points="688.4,442 682.9,432 693.9,432" fill="#808080"/>
<polygon points="690.9,442 685.4,432 696.4,432" fill="#808080"/>
<polygon points="693.4,442 687.9,432 698.9,432" fill="#808080"/>
<polygon points="695.9,442 690.4,432 701.4,432" fill="#808080"/>
<polygon points="698.4,442 692.9,432 703.9,432" fill="#808080"/>
<polygon points="701.0,442 695.5,432 706.5,432" fill="#808080"/>
<polygon points="817.4,442 811.9,432 822.9,432" fill="#808080"/>
<polygon points="819.9,442 814.4,432 825.4,432" fill="#808080"/>
<polygon points="822.4,442 816.9,432 827.9,432" fill="#808080"/>
<polygon points="825.0,442 819.5,432 830.5,432" fill="#808080"/>
<rect x="0" y="0" width="954" height="1" fill="#000"/>
<rect x="0" y="0" width="1" height="621" fill="#000"/>
<rect x="953" y="0" width="1" height="621" fill="#000"/>
<rect x="0" y="397" width="954" height="1" fill="#000"/>
<rect x="0" y="413" width="954" height="1" fill="#000"/>
<rect x="12" y="398" width="1" height="5" fill="#000"/>
<rect x="72" y="398" width="1" height="5" fill="#000"/>
<rect x="133" y="398" width="1" height="5" fill="#000"/>
<rect x="193" y="398" width="1" height="5" fill="#000"/>
<rect x="253" y="398" width="1" height="5" fill="#000"/>
<rect x="314" y="398" width="1" height="5" fill="#000"/>
<rect x="374" y="398" width="1" height="5" fill="#000"/>
<rect x="434" y="398" width="1" height="5" fill="#000"/>
<rect x="495" y="398" width="1" height="5" fill="#000"/>
<rect x="555" y="398" width="1" height="5" fill="#000"/>
<rect x="616" y="398" width="1" height="5" fill="#000"/>
<rect x="676" y="398" width="1" height="5" fill="#000"/>
<rect x="736" y="398" width="1" height="5" fill="#000"/>
<rect x="797" y="398" width="1" height="5" fill="#000"/>
<polygon points="954,28.5 961,20 1014,20 1014,35 961,35" fill="#000"/>
<rect x="961" y="35" width="53" height="15" fill="#808080"/>
<rect x="961" y="63" width="53" height="15" fill="#808080"/>
<polygon points="954,480.5 961,473 1014,473 1014,488 961,488" fill="#0000ff"/>
<rect x="961" y="488" width="53" height="15" fill="#008000"/>
</svg>
<div style="position:absolute;left:5.00px;top:2.94px;font-size:12px;line-height:13.79px;letter-spacing:-0.400px;color:#000;white-space:pre;z-index:3">$XAUUSD</div>
<div style="position:absolute;left:63.00px;top:2.94px;font-size:12px;line-height:13.79px;letter-spacing:0.000px;color:#000;white-space:pre;z-index:3">-</div>
<div style="position:absolute;left:69.70px;top:2.94px;font-size:12px;line-height:13.79px;letter-spacing:-0.333px;color:#000;white-space:pre;z-index:3">Monthly</div>
<div style="position:absolute;left:114.00px;top:2.94px;font-size:12px;line-height:13.79px;letter-spacing:0.100px;color:#000;white-space:pre;z-index:3">31/12/2024</div>
<div style="position:absolute;left:179.80px;top:2.94px;font-size:12px;line-height:13.79px;letter-spacing:-0.200px;color:#000;white-space:pre;z-index:3">Open</div>
<div style="position:absolute;left:211.60px;top:2.94px;font-size:12px;line-height:13.79px;letter-spacing:-0.043px;color:#000;white-space:pre;z-index:3">2653.32,</div>
<div style="position:absolute;left:262.20px;top:2.94px;font-size:12px;line-height:13.79px;letter-spacing:0.700px;color:#000;white-space:pre;z-index:3">Hi</div>
<div style="position:absolute;left:277.60px;top:2.94px;font-size:12px;line-height:13.79px;letter-spacing:0.000px;color:#000;white-space:pre;z-index:3">2725.79,</div>
<div style="position:absolute;left:328.80px;top:2.94px;font-size:12px;line-height:13.79px;letter-spacing:0.400px;color:#000;white-space:pre;z-index:3">Lo</div>
<div style="position:absolute;left:345.60px;top:2.94px;font-size:12px;line-height:13.79px;letter-spacing:0.171px;color:#000;white-space:pre;z-index:3">2582.62,</div>
<div style="position:absolute;left:397.10px;top:2.94px;font-size:12px;line-height:13.79px;letter-spacing:0.475px;color:#000;white-space:pre;z-index:3">Close</div>
<div style="position:absolute;left:432.70px;top:2.94px;font-size:12px;line-height:13.79px;letter-spacing:0.183px;color:#000;white-space:pre;z-index:3">2623.81</div>
<div style="position:absolute;left:481.40px;top:2.94px;font-size:12px;line-height:13.79px;letter-spacing:0.067px;color:#000;white-space:pre;z-index:3">(-1.1%)</div>
<div style="position:absolute;left:4.80px;top:415.94px;font-size:12px;line-height:13.79px;letter-spacing:-0.350px;color:#000;white-space:pre;z-index:3">$XAUUSD</div>
<div style="position:absolute;left:62.60px;top:415.94px;font-size:12px;line-height:13.79px;letter-spacing:0.000px;color:#000;white-space:pre;z-index:3">-</div>
<div style="position:absolute;left:69.70px;top:415.94px;font-size:12px;line-height:13.79px;letter-spacing:0.275px;color:#000;white-space:pre;z-index:3">Icebergs4</div>
<div style="position:absolute;left:964.40px;top:21.94px;font-size:12px;line-height:13.79px;letter-spacing:0.229px;color:#fff;white-space:pre;z-index:5">2,623.81</div>
<div style="position:absolute;left:964.40px;top:36.94px;font-size:12px;line-height:13.79px;letter-spacing:0.229px;color:#000;white-space:pre;z-index:5">2,619.33</div>
<div style="position:absolute;left:964.40px;top:64.74px;font-size:12px;line-height:13.79px;letter-spacing:0.229px;color:#000;white-space:pre;z-index:5">1,954.06</div>
<div style="position:absolute;left:964.40px;top:474.74px;font-size:12px;line-height:13.79px;letter-spacing:0.417px;color:#fff;white-space:pre;z-index:5">5.31121</div>
<div style="position:absolute;left:964.40px;top:489.74px;font-size:12px;line-height:13.79px;letter-spacing:0.250px;color:#fff;white-space:pre;z-index:5">5.21974</div>
</body></html>
